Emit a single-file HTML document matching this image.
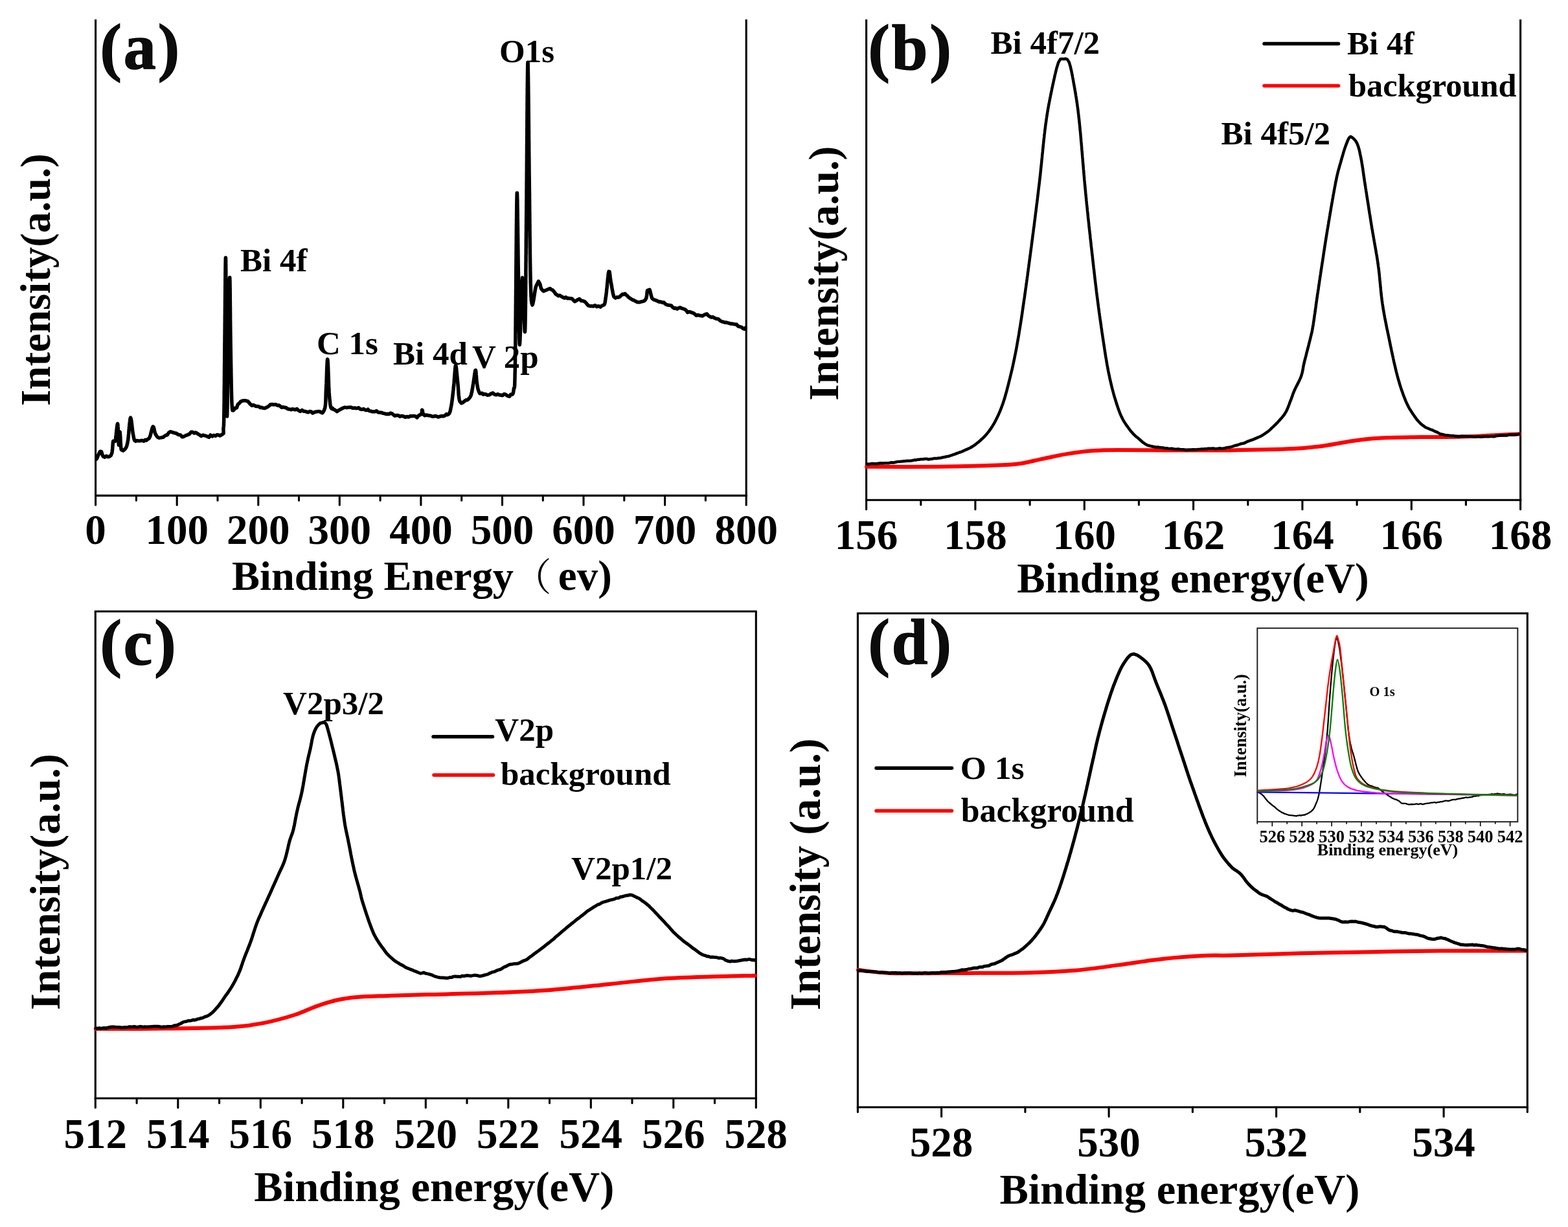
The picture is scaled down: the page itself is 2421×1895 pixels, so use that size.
<!DOCTYPE html>
<html><head><meta charset="utf-8"><title>XPS spectra</title>
<style>html,body{margin:0;padding:0;background:#fff;width:2421px;height:1895px;overflow:hidden}svg{display:block}</style>
</head><body>
<svg width="2421" height="1895" viewBox="0 0 2421 1895">
<rect width="2421" height="1895" fill="#fff"/>
<g font-family='"Liberation Serif", "Times New Roman", serif' font-weight="bold" fill="#000">
<line x1="147.6" y1="30" x2="147.6" y2="766.9" stroke="#000" stroke-width="3.1" stroke-linecap="butt"/>
<line x1="1152.2" y1="30" x2="1152.2" y2="766.9" stroke="#000" stroke-width="3.1" stroke-linecap="butt"/>
<line x1="146" y1="765.4" x2="1153.8" y2="765.4" stroke="#000" stroke-width="3.1" stroke-linecap="butt"/>
<line x1="147.6" y1="765.4" x2="147.6" y2="779.9" stroke="#000" stroke-width="3.1" stroke-linecap="round"/>
<line x1="210.4" y1="765.4" x2="210.4" y2="772.9" stroke="#000" stroke-width="3.1" stroke-linecap="round"/>
<line x1="273.2" y1="765.4" x2="273.2" y2="779.9" stroke="#000" stroke-width="3.1" stroke-linecap="round"/>
<line x1="336" y1="765.4" x2="336" y2="772.9" stroke="#000" stroke-width="3.1" stroke-linecap="round"/>
<line x1="398.8" y1="765.4" x2="398.8" y2="779.9" stroke="#000" stroke-width="3.1" stroke-linecap="round"/>
<line x1="461.5" y1="765.4" x2="461.5" y2="772.9" stroke="#000" stroke-width="3.1" stroke-linecap="round"/>
<line x1="524.3" y1="765.4" x2="524.3" y2="779.9" stroke="#000" stroke-width="3.1" stroke-linecap="round"/>
<line x1="587.1" y1="765.4" x2="587.1" y2="772.9" stroke="#000" stroke-width="3.1" stroke-linecap="round"/>
<line x1="649.9" y1="765.4" x2="649.9" y2="779.9" stroke="#000" stroke-width="3.1" stroke-linecap="round"/>
<line x1="712.7" y1="765.4" x2="712.7" y2="772.9" stroke="#000" stroke-width="3.1" stroke-linecap="round"/>
<line x1="775.5" y1="765.4" x2="775.5" y2="779.9" stroke="#000" stroke-width="3.1" stroke-linecap="round"/>
<line x1="838.3" y1="765.4" x2="838.3" y2="772.9" stroke="#000" stroke-width="3.1" stroke-linecap="round"/>
<line x1="901" y1="765.4" x2="901" y2="779.9" stroke="#000" stroke-width="3.1" stroke-linecap="round"/>
<line x1="963.8" y1="765.4" x2="963.8" y2="772.9" stroke="#000" stroke-width="3.1" stroke-linecap="round"/>
<line x1="1026.6" y1="765.4" x2="1026.6" y2="779.9" stroke="#000" stroke-width="3.1" stroke-linecap="round"/>
<line x1="1089.4" y1="765.4" x2="1089.4" y2="772.9" stroke="#000" stroke-width="3.1" stroke-linecap="round"/>
<line x1="1152.2" y1="765.4" x2="1152.2" y2="779.9" stroke="#000" stroke-width="3.1" stroke-linecap="round"/>
<text x="147.6" y="840" font-size="65" text-anchor="middle" >0</text>
<text x="273.2" y="840" font-size="65" text-anchor="middle" >100</text>
<text x="398.8" y="840" font-size="65" text-anchor="middle" >200</text>
<text x="524.3" y="840" font-size="65" text-anchor="middle" >300</text>
<text x="649.9" y="840" font-size="65" text-anchor="middle" >400</text>
<text x="775.5" y="840" font-size="65" text-anchor="middle" >500</text>
<text x="901" y="840" font-size="65" text-anchor="middle" >600</text>
<text x="1026.6" y="840" font-size="65" text-anchor="middle" >700</text>
<text x="1152.2" y="840" font-size="65" text-anchor="middle" >800</text>
<path d="M149.2 708.9 L149.9 707.3 L150.9 705 L152 702.2 L153.3 699.6 L154.4 697.5 L155.4 697.3 L156.5 697.4 L157.3 699.9 L158.2 702.9 L159.5 705.1 L161.6 706.1 L164.1 704.3 L166.6 705.5 L168.7 705.2 L171.2 703.5 L172.8 699.7 L173.1 697.9 L173.4 695.6 L173.7 692.9 L173.9 690.1 L174.1 687.4 L174.3 684.8 L174.5 682.7 L174.8 681.3 L177.9 681.5 L178.2 679.7 L178.5 677.6 L178.8 675 L179.2 672.1 L179.5 669 L179.8 665.8 L180.2 662.8 L180.5 660.1 L180.8 657.7 L181.1 655.9 L181.4 654.8 L181.6 654.3 L181.8 655.2 L182 656.6 L182.1 658.7 L182.3 661.2 L182.4 664.1 L182.5 667.3 L182.6 670.6 L182.7 674 L182.8 677.2 L182.9 680.2 L183.1 682.8 L183.2 685 L183.3 686.6 L183.4 687.4 L183.6 687.2 L183.8 685.5 L183.9 682.7 L184.1 679.2 L184.3 675.6 L184.5 672.1 L184.7 669.2 L184.9 667.3 L185.1 667 L185.3 667.6 L185.4 668.9 L185.5 670.8 L185.7 673.1 L185.8 675.8 L186 678.6 L186.1 681.6 L186.3 684.6 L186.5 687.4 L186.7 690.1 L186.9 692.4 L187.2 694.3 L187.5 694.7 L190.3 696.1 L193.3 693.3 L194.2 692 L195.1 690.4 L195.8 688.3 L196.6 685.3 L197.4 681.2 L197.7 679.5 L197.9 677.4 L198.2 675.1 L198.4 672.5 L198.7 669.7 L198.9 666.8 L199.2 663.9 L199.4 660.9 L199.7 658.1 L200 655.4 L200.2 652.8 L200.5 650.6 L200.7 648.6 L201 647.1 L201.2 646 L201.5 645 L201.9 645.6 L202.2 646.5 L202.6 648.4 L203 650.8 L203.4 653.8 L203.7 656.9 L204.1 660.2 L204.5 663.5 L204.9 666.5 L205.2 669 L205.6 671 L206.3 674.9 L206.9 677.8 L207.8 680.2 L209.7 681.5 L211.5 680.4 L213.8 680.9 L216.4 680.8 L219.2 680.3 L221.8 681.3 L224.1 679.3 L226 680.1 L228.6 677.9 L229.9 677.3 L231.2 675.1 L231.9 673.2 L232.7 670.5 L233.4 667.4 L234.2 664.4 L234.9 661.7 L235.6 659.7 L236.3 658.9 L237.1 659.5 L237.8 661.9 L238.5 665.2 L239.3 668.6 L240.4 671.1 L242 673.6 L243.7 675.5 L245.9 676.3 L248.6 675.9 L250.2 675.5 L252.1 675.2 L254.1 673.5 L256.2 672.2 L258.3 671.7 L260.6 668.3 L262.8 666.8 L265 667.2 L267.2 668 L269.5 668.7 L271.8 669 L274.2 670.6 L276.6 671.6 L278.9 671.9 L281.2 674.8 L283.4 674.5 L285.8 673 L288.1 672.2 L290.4 671.2 L292.6 670.4 L294.9 667.3 L297.3 667.3 L299.8 669 L301.9 668 L304 669 L306.3 670.7 L308.5 671.9 L310.8 673.5 L313.2 672 L315.5 672.6 L317.9 673.1 L320.3 674.3 L322.6 675.3 L325 671.9 L327.6 673.9 L330.2 672.2 L332.8 673.3 L335.2 671.5 L337.6 672 L339.7 672.9 L341.5 671.8 L342.9 671.2 L345.1 669.4 L345.1 667.1 L344.9 662.8 L345 661.5 L345.1 660.4 L345.2 659.4 L345.3 658.5 L345.4 657.3 L345.5 656 L345.5 654.3 L345.6 652.1 L345.7 649.3 L345.7 645.7 L345.8 641.4 L345.9 636.1 L345.9 634.7 L345.9 633.2 L346 631.7 L346 630.2 L346 628.5 L346 626.9 L346 625.1 L346.1 623.3 L346.1 621.5 L346.1 619.6 L346.1 617.7 L346.1 615.8 L346.2 613.8 L346.2 611.7 L346.2 609.6 L346.2 607.5 L346.2 605.4 L346.3 603.2 L346.3 601 L346.3 598.7 L346.3 596.5 L346.4 594.2 L346.4 591.8 L346.4 589.5 L346.4 587.1 L346.4 584.7 L346.5 582.3 L346.5 579.9 L346.5 577.5 L346.5 575 L346.5 572.5 L346.6 570.1 L346.6 567.6 L346.6 565.1 L346.6 562.6 L346.7 560.1 L346.7 557.6 L346.7 555.1 L346.7 552.6 L346.7 550.1 L346.8 547.6 L346.8 545.2 L346.8 542.7 L346.8 540.2 L346.9 537.8 L346.9 535.3 L346.9 532.9 L346.9 530.5 L347 528.1 L347 525.7 L347 523.4 L347 521.3 L347 519.1 L347.1 516.8 L347.1 514.4 L347.1 512 L347.1 509.5 L347.2 507 L347.2 504.4 L347.2 501.7 L347.2 499 L347.3 496.3 L347.3 493.5 L347.3 490.7 L347.3 487.9 L347.4 485 L347.4 482.1 L347.4 479.2 L347.4 476.3 L347.5 473.4 L347.5 470.5 L347.5 467.5 L347.5 464.6 L347.6 461.7 L347.6 458.8 L347.6 455.9 L347.6 453.1 L347.7 450.2 L347.7 447.4 L347.7 444.7 L347.7 441.9 L347.8 439.2 L347.8 436.6 L347.8 434 L347.8 431.5 L347.9 429 L347.9 426.6 L347.9 424.2 L347.9 421.9 L348 419.7 L348 417.6 L348 415.6 L348 413.7 L348.1 411.8 L348.1 410 L348.1 408.4 L348.1 406.8 L348.2 405.4 L348.2 404.1 L348.2 402.9 L348.2 401.8 L348.3 400.8 L348.3 400 L348.3 399.3 L348.3 398.8 L348.4 398.4 L348.4 398.1 L348.4 398.1 L348.4 398 L348.4 398.3 L348.5 398.6 L348.5 399.1 L348.5 399.8 L348.5 400.6 L348.6 401.5 L348.6 402.6 L348.6 403.8 L348.6 405.1 L348.6 406.6 L348.7 408.1 L348.7 409.8 L348.7 411.6 L348.7 413.4 L348.7 415.4 L348.8 417.5 L348.8 419.6 L348.8 421.8 L348.8 424.1 L348.8 426.5 L348.9 429 L348.9 431.5 L348.9 434.1 L348.9 436.7 L348.9 439.4 L349 442.2 L349 444.9 L349 447.8 L349 450.6 L349 453.5 L349.1 456.4 L349.1 459.3 L349.1 462.3 L349.1 465.2 L349.1 468.2 L349.2 471.2 L349.2 474.1 L349.2 477.1 L349.2 480 L349.2 483 L349.2 485.9 L349.3 488.8 L349.3 491.6 L349.3 494.5 L349.3 497.3 L349.3 500 L349.4 502.7 L349.4 505.4 L349.4 508 L349.4 510.5 L349.4 513 L349.5 515.4 L349.5 517.7 L349.5 520 L349.5 522.3 L349.5 524.6 L349.6 527 L349.6 529.5 L349.6 532 L349.6 534.6 L349.6 537.3 L349.7 540 L349.7 542.7 L349.7 545.5 L349.7 548.3 L349.7 551.2 L349.7 554 L349.8 556.9 L349.8 559.9 L349.8 562.8 L349.8 565.8 L349.8 568.7 L349.8 571.7 L349.9 574.6 L349.9 577.6 L349.9 580.5 L349.9 583.4 L349.9 586.3 L349.9 589.2 L350 592 L350 594.9 L350 597.6 L350 600.4 L350 603 L350.1 605.7 L350.1 608.3 L350.1 610.8 L350.1 613.2 L350.1 615.6 L350.2 617.9 L350.2 620.1 L350.2 622.3 L350.2 624.4 L350.2 626.3 L350.3 628.2 L350.3 630 L350.3 631.7 L350.3 633.2 L350.3 634.7 L350.4 636 L350.4 637.2 L350.4 638.3 L350.4 639.3 L350.5 640.1 L350.5 640.8 L350.5 641.3 L350.5 641.7 L350.6 641.9 L350.6 643.1 L350.6 641.9 L350.7 641.7 L350.7 641.3 L350.7 640.7 L350.7 640 L350.8 639.1 L350.8 638.1 L350.8 636.9 L350.9 635.7 L350.9 634.3 L350.9 632.7 L351 631.1 L351 629.3 L351 627.5 L351.1 625.5 L351.1 623.4 L351.1 621.3 L351.2 619 L351.2 616.7 L351.3 614.3 L351.3 611.8 L351.3 609.3 L351.4 606.7 L351.4 604 L351.4 601.3 L351.5 598.5 L351.5 595.7 L351.6 592.9 L351.6 590 L351.6 587.1 L351.7 584.2 L351.7 581.3 L351.7 578.3 L351.8 575.3 L351.8 572.4 L351.9 569.4 L351.9 566.4 L351.9 563.5 L352 560.6 L352 557.7 L352.1 554.8 L352.1 551.9 L352.1 549.1 L352.2 546.3 L352.2 543.6 L352.3 540.9 L352.3 538.3 L352.3 535.8 L352.4 533.3 L352.4 530.9 L352.4 528.5 L352.5 526.2 L352.5 524.1 L352.6 522 L352.6 520 L352.7 517.4 L352.7 514.7 L352.8 511.9 L352.8 509.1 L352.9 506.2 L352.9 503.3 L353 500.4 L353 497.4 L353.1 494.4 L353.1 491.4 L353.2 488.4 L353.2 485.4 L353.3 482.4 L353.3 479.4 L353.4 476.5 L353.4 473.5 L353.5 470.6 L353.6 467.8 L353.6 465 L353.7 462.2 L353.7 459.5 L353.8 456.9 L353.8 454.3 L353.9 451.9 L353.9 449.5 L354 447.2 L354 445 L354.1 442.9 L354.1 441 L354.2 439.1 L354.2 437.4 L354.3 435.8 L354.3 434.4 L354.4 433.1 L354.4 432 L354.5 431 L354.5 430.2 L354.6 429.6 L354.6 429.1 L354.7 428.9 L354.7 428.5 L354.7 428.9 L354.8 429.3 L354.8 429.8 L354.8 430.5 L354.9 431.3 L354.9 432.4 L355 433.6 L355 434.9 L355 436.4 L355 438 L355.1 439.7 L355.1 441.6 L355.1 443.6 L355.2 445.7 L355.2 447.9 L355.2 450.2 L355.2 452.6 L355.3 455.1 L355.3 457.6 L355.3 460.2 L355.3 462.9 L355.4 465.6 L355.4 468.4 L355.4 471.2 L355.5 474.1 L355.5 476.9 L355.5 479.8 L355.5 482.7 L355.6 485.7 L355.6 488.6 L355.6 491.5 L355.6 494.4 L355.7 497.3 L355.7 500.1 L355.7 502.9 L355.8 505.7 L355.8 508.4 L355.8 511.1 L355.9 513.7 L355.9 516.3 L355.9 518.7 L356 521.1 L356 523.4 L356 525.6 L356.1 527.9 L356.1 530.2 L356.1 532.5 L356.2 534.9 L356.2 537.3 L356.3 539.8 L356.3 542.3 L356.3 544.8 L356.4 547.3 L356.4 549.8 L356.5 552.3 L356.5 554.9 L356.5 557.5 L356.6 560 L356.6 562.6 L356.7 565.2 L356.7 567.7 L356.8 570.3 L356.8 572.8 L356.8 575.4 L356.9 577.9 L356.9 580.3 L357 582.8 L357 585.2 L357.1 587.7 L357.1 590 L357.1 592.4 L357.2 594.6 L357.2 596.9 L357.3 599.1 L357.3 601.2 L357.4 603.3 L357.4 605.4 L357.5 607.4 L357.5 609.3 L357.6 611.1 L357.6 612.9 L357.7 614.6 L357.7 616.3 L357.8 617.8 L357.8 619.3 L357.9 620.7 L357.9 622 L358.4 630.2 L358.8 633.8 L359.3 633.3 L359.8 633.4 L360.3 633.9 L361.4 632.8 L362.5 630.2 L365.4 629.9 L366.4 626.9 L367.6 624.1 L369.5 622.7 L371.3 620.5 L373.7 619.2 L376.2 618.8 L378.6 618.7 L380.8 619.1 L382.9 619.8 L384.5 621.9 L386.4 624.1 L389 626.4 L390.7 625.5 L392.7 626.1 L394.9 627.4 L397.2 627.5 L399.5 627.7 L401.9 629.5 L404.2 629.2 L406.4 630.2 L408.7 630.4 L410.9 629.4 L413.1 628.4 L415.3 627 L417.5 624.8 L420 624.5 L422.8 625 L424.7 624.6 L426.6 625 L428.5 626.3 L430.5 625.8 L432.6 627.2 L434.8 629.3 L437.1 628.7 L439.4 629.3 L441.9 629.8 L444.6 631.8 L447.4 632 L449.4 632.7 L451.5 631.8 L453.7 632.2 L456.1 632.7 L458.5 631.5 L461.1 634.1 L463.6 635.2 L466.2 633.4 L468.8 635.1 L471.3 635.3 L473.8 636.2 L476.2 636.7 L478.5 635.3 L480.7 635.9 L482.8 638 L484.6 637.1 L486.3 636.2 L490.3 635.6 L493.3 635.5 L495.8 636.9 L497.7 637.7 L499.3 635.7 L500.7 633.1 L501.2 631.8 L501.7 630.2 L502 628.5 L502.3 626.7 L502.5 624.6 L502.7 622.5 L502.8 620.3 L502.9 617.9 L503 615.5 L503 613 L503.1 610.4 L503.2 607.8 L503.2 605.2 L503.4 602.6 L503.5 600 L503.6 597.9 L503.7 595.5 L503.9 592.9 L504 590.1 L504.1 587.2 L504.2 584.1 L504.3 581 L504.4 577.9 L504.5 574.8 L504.6 571.8 L504.7 568.8 L504.8 566.1 L505 563.6 L505.1 561.3 L505.2 559.3 L505.3 557.6 L505.4 556.3 L505.5 555.5 L505.7 554.8 L505.8 555.2 L505.9 555.7 L506 556.4 L506.1 557.5 L506.2 558.9 L506.3 560.5 L506.4 562.4 L506.5 564.5 L506.6 566.7 L506.7 569.2 L506.8 571.7 L506.9 574.4 L507 577.2 L507.1 580.1 L507.2 583 L507.3 586 L507.4 589 L507.5 591.9 L507.6 594.8 L507.7 597.7 L507.9 600.5 L508 603.1 L508.1 605.7 L508.3 608.1 L508.4 610.3 L508.6 612.3 L508.7 614.1 L508.9 615.7 L509.4 620.1 L509.8 623.6 L510.2 626.3 L510.6 628.5 L511.2 630 L512.1 631.2 L513.3 630.4 L515 632.3 L516.5 632.7 L518.3 634 L520.4 635.6 L522.6 633.9 L524.9 632.6 L527.4 631.3 L529.9 630 L532.4 629.1 L534.9 629.6 L537.3 629.2 L539.6 629.1 L541.8 628.9 L543.8 630 L545.8 630.2 L547.7 629.9 L549.7 630.6 L551.7 630.5 L553.9 629.7 L556.2 631.9 L558.6 632.4 L561.4 631.6 L564.4 633.4 L566.2 633.6 L568.1 632.2 L570.2 634.6 L572.3 634.9 L574.5 635.7 L576.7 635.8 L579.1 635.7 L581.4 634.6 L583.8 636.7 L586.3 637.1 L588.7 637.2 L591.2 638.1 L593.6 638.6 L596.1 639.5 L598.5 639.3 L600.8 639.6 L603.1 638 L605.4 638.9 L607.6 640.6 L609.7 642.2 L612.3 641.5 L615 641.4 L617.6 643.2 L620.3 642.3 L623 643 L625.7 644.3 L628.3 643.4 L630.8 644.1 L633.3 642.6 L635.7 642.7 L637.9 642.4 L640.1 642.4 L642 643.4 L643.9 645 L645.5 642.6 L646.9 641.5 L650.4 639.7 L651.5 636.6 L651.4 633.9 L651.7 633 L652.4 634.3 L652.8 638 L654.4 640.7 L655.9 641.8 L657.6 641 L659.7 641.3 L662 641.7 L664.6 642 L667.5 643.3 L669.5 643.2 L671.8 642.5 L674.3 643 L677 644.1 L679.7 642.9 L682.3 642.5 L684.9 642.8 L687.2 641.7 L689.2 639.6 L690.9 640.8 L693.2 639.3 L694.5 636.6 L695.2 634.7 L695.7 632.1 L696.4 628.5 L696.7 626.9 L697.1 625.1 L697.4 623.1 L697.7 621 L698 618.8 L698.3 616.4 L698.6 614 L698.9 611.6 L699.2 609.1 L699.4 606.6 L699.7 604.1 L700 601.6 L700.2 599.2 L700.5 596.9 L700.7 594.5 L701 591.8 L701.2 589 L701.4 586 L701.6 583.1 L701.9 580.1 L702.1 577.2 L702.3 574.4 L702.5 571.9 L702.7 569.6 L702.9 567.7 L703.1 566.2 L703.3 565.1 L703.5 564.7 L703.8 564.7 L704.1 565.6 L704.4 567.2 L704.6 569.4 L704.9 572 L705.2 574.9 L705.5 578 L705.8 581.2 L706.1 584.3 L706.4 587.3 L706.7 590 L706.9 592.3 L707.1 594.7 L707.3 597.3 L707.5 600 L707.7 602.8 L707.9 605.5 L708.1 608.2 L708.3 610.8 L708.6 613.2 L708.9 615.4 L709.2 617.3 L709.6 618.9 L710.1 620.1 L712.1 622.6 L714.7 621.6 L717.3 619.5 L719.7 617.7 L721.7 617.7 L723.5 616 L725.1 614.4 L726.6 612 L727.3 610.3 L727.8 608.2 L728.4 605.9 L728.9 603.3 L729.3 600.7 L729.8 598 L730.2 595.3 L730.7 592.7 L731.1 590.2 L731.5 587.3 L732 584.3 L732.4 581.2 L732.8 578.2 L733.2 575.6 L733.5 573.5 L733.9 572 L734.2 571.8 L734.5 571.8 L734.8 573.4 L735 575.7 L735.2 578.5 L735.5 581.6 L735.7 584.8 L735.9 587.6 L736.2 590 L736.6 592.7 L737 595.3 L737.4 597.7 L737.8 600 L738.4 602 L739 603.7 L739.9 606.1 L741 607.8 L744.5 607.2 L746.1 609.2 L748.1 608.6 L750.4 609 L752.8 610.3 L755.4 609.9 L758.1 608.1 L760.8 606.9 L763.5 609.2 L766.1 609.9 L768.5 608.7 L770.6 609.8 L773.3 610.2 L776 610.8 L778.5 608.5 L780.9 609.4 L783.1 611.2 L785.1 611.9 L786.9 612.2 L788.5 609.2 L790.7 609.3 L791.9 608.3 L792.6 605.7 L793.3 601 L793.5 599.8 L793.7 599.2 L793.8 598.8 L794 598.6 L794.1 599.3 L794.2 598.5 L794.3 598.3 L794.4 597.8 L794.5 597 L794.6 595.6 L794.7 593.7 L794.8 591 L794.9 587.5 L795 583 L795.1 577.4 L795.3 570.6 L795.4 562.5 L795.4 561.2 L795.4 559.8 L795.5 558.4 L795.5 557 L795.5 555.4 L795.5 553.9 L795.5 552.2 L795.6 550.6 L795.6 548.8 L795.6 547.1 L795.6 545.2 L795.7 543.4 L795.7 541.4 L795.7 539.5 L795.7 537.5 L795.7 535.4 L795.8 533.3 L795.8 531.2 L795.8 529 L795.8 526.8 L795.9 524.6 L795.9 522.3 L795.9 520 L795.9 517.6 L795.9 515.2 L796 512.8 L796 510.4 L796 507.9 L796 505.4 L796.1 502.9 L796.1 500.3 L796.1 497.7 L796.1 495.1 L796.1 492.5 L796.2 489.8 L796.2 487.2 L796.2 484.5 L796.2 481.8 L796.3 479.1 L796.3 476.3 L796.3 473.6 L796.3 470.8 L796.4 468 L796.4 465.2 L796.4 462.4 L796.4 459.6 L796.5 456.7 L796.5 453.9 L796.5 451.1 L796.5 448.2 L796.6 445.4 L796.6 442.5 L796.6 439.7 L796.6 436.8 L796.6 434 L796.7 431.1 L796.7 428.2 L796.7 425.4 L796.7 422.5 L796.8 419.7 L796.8 416.9 L796.8 414.1 L796.8 411.2 L796.9 408.4 L796.9 405.6 L796.9 402.8 L796.9 400.1 L797 397.3 L797 394.6 L797 391.9 L797 389.1 L797.1 386.5 L797.1 383.8 L797.1 381.1 L797.1 378.5 L797.2 375.9 L797.2 373.3 L797.2 370.8 L797.2 368.3 L797.2 365.8 L797.3 363.3 L797.3 360.8 L797.3 358.4 L797.3 356 L797.4 353.7 L797.4 351.4 L797.4 349.1 L797.4 346.9 L797.5 344.7 L797.5 342.5 L797.5 340.4 L797.5 338.3 L797.6 336.2 L797.6 334.2 L797.6 332.3 L797.6 330.4 L797.6 328.5 L797.7 326.7 L797.7 324.9 L797.7 323.2 L797.7 321.5 L797.8 319.9 L797.8 318.3 L797.8 316.8 L797.8 315.3 L797.8 313.9 L797.9 312.6 L797.9 311.3 L797.9 310.1 L797.9 308.9 L798 307.8 L798 306.7 L798 305.7 L798 304.8 L798 304 L798.1 303.2 L798.1 302.5 L798.1 301.8 L798.1 300.5 L798.2 299.5 L798.2 298.8 L798.3 298.3 L798.3 298.1 L798.4 298.1 L798.4 298.4 L798.5 298.8 L798.5 299.5 L798.6 300.4 L798.6 301.4 L798.6 302.7 L798.7 304.2 L798.7 305.8 L798.8 307.6 L798.8 309.5 L798.9 311.6 L798.9 313.8 L798.9 316.2 L799 318.7 L799 321.3 L799.1 324 L799.1 326.9 L799.2 329.8 L799.2 332.8 L799.2 335.9 L799.3 339 L799.3 342.2 L799.4 345.5 L799.4 348.8 L799.5 352.1 L799.5 355.5 L799.5 358.9 L799.6 362.3 L799.6 365.8 L799.7 369.2 L799.7 372.6 L799.7 376 L799.8 379.3 L799.8 382.6 L799.9 385.9 L799.9 389.2 L799.9 392.3 L800 395.4 L800 398.5 L800.1 401.4 L800.1 404.3 L800.1 407 L800.2 409.7 L800.2 412.2 L800.3 414.6 L800.3 416.9 L800.3 419.2 L800.4 421.5 L800.4 423.9 L800.5 426.3 L800.5 428.9 L800.5 431.4 L800.6 434.1 L800.6 436.7 L800.6 439.4 L800.7 442.2 L800.7 445 L800.7 447.8 L800.8 450.6 L800.8 453.5 L800.8 456.4 L800.9 459.3 L800.9 462.2 L800.9 465 L801 467.9 L801 470.8 L801 473.7 L801.1 476.5 L801.1 479.4 L801.1 482.2 L801.2 485 L801.2 487.7 L801.2 490.4 L801.3 493.1 L801.3 495.7 L801.4 498.2 L801.4 500.7 L801.4 503.2 L801.5 505.5 L801.5 507.8 L801.5 510.1 L801.6 512.2 L801.6 514.3 L801.7 516.3 L801.7 518.1 L801.7 519.9 L801.8 521.6 L801.8 523.2 L801.9 524.6 L801.9 526 L802 527.2 L802 528.3 L802 529.3 L802.1 530.1 L802.1 530.8 L802.2 531.3 L802.2 531.7 L802.3 532 L802.4 532.5 L802.4 531.9 L802.5 531.4 L802.6 530.8 L802.6 529.8 L802.7 528.7 L802.8 527.4 L802.9 525.8 L803 524.1 L803 522.2 L803.1 520.2 L803.2 518 L803.3 515.6 L803.4 513.2 L803.5 510.6 L803.6 507.9 L803.6 505.1 L803.7 502.2 L803.8 499.3 L803.9 496.3 L804 493.2 L804.1 490.1 L804.2 487 L804.3 483.9 L804.4 480.7 L804.5 477.6 L804.6 474.5 L804.6 471.4 L804.7 468.3 L804.8 465.4 L804.9 462.4 L805 459.6 L805.1 456.8 L805.2 454.1 L805.2 451.5 L805.3 449.1 L805.4 446.8 L805.5 444.6 L805.6 442.6 L805.6 440.7 L805.7 439 L805.8 437.5 L805.8 436.2 L805.9 435.1 L806.5 428.8 L806.9 430 L807.4 436.2 L807.9 445 L808 446.5 L808.1 448.4 L808.2 450.6 L808.3 453.1 L808.3 455.9 L808.4 458.9 L808.5 462.1 L808.6 465.5 L808.7 469 L808.8 472.6 L808.9 476.3 L809 479.9 L809.1 483.6 L809.2 487.2 L809.4 490.7 L809.5 494 L809.6 497.2 L809.7 500.2 L809.8 503 L809.9 505.5 L810 507.7 L810.1 509.5 L810.2 510.9 L810.3 512 L810.3 512.5 L810.4 512.6 L810.5 512.1 L810.6 511.1 L810.7 509.5 L810.7 508.8 L810.8 508 L810.8 507.1 L810.8 506.2 L810.8 505.2 L810.9 504.1 L810.9 503 L810.9 501.9 L811 500.6 L811 499.4 L811 498 L811 496.6 L811.1 495.2 L811.1 493.7 L811.1 492.1 L811.1 490.5 L811.2 488.9 L811.2 487.2 L811.2 485.4 L811.3 483.7 L811.3 481.8 L811.3 479.9 L811.3 478 L811.4 476.1 L811.4 474.1 L811.4 472 L811.4 469.9 L811.5 467.8 L811.5 465.7 L811.5 463.5 L811.5 461.2 L811.5 459 L811.6 456.7 L811.6 454.4 L811.6 452 L811.6 449.7 L811.7 447.2 L811.7 444.8 L811.7 442.4 L811.7 439.9 L811.8 437.4 L811.8 434.8 L811.8 432.3 L811.8 429.7 L811.9 427.1 L811.9 424.5 L811.9 421.9 L811.9 419.3 L811.9 416.6 L812 413.9 L812 411.3 L812 408.6 L812 405.9 L812.1 403.1 L812.1 400.4 L812.1 397.7 L812.1 394.9 L812.2 392.2 L812.2 389.5 L812.2 386.7 L812.2 384 L812.3 381.2 L812.3 378.5 L812.3 375.7 L812.3 373 L812.3 370.2 L812.4 367.5 L812.4 364.7 L812.4 362 L812.4 359.3 L812.5 356.6 L812.5 353.9 L812.5 351.2 L812.5 348.5 L812.6 345.8 L812.6 343.2 L812.6 340.5 L812.6 337.9 L812.7 335.3 L812.7 332.7 L812.7 330.7 L812.7 328.8 L812.8 326.7 L812.8 324.6 L812.8 322.5 L812.8 320.3 L812.8 318.1 L812.9 315.9 L812.9 313.6 L812.9 311.3 L812.9 308.9 L812.9 306.5 L813 304.1 L813 301.7 L813 299.2 L813 296.7 L813 294.1 L813.1 291.6 L813.1 289 L813.1 286.4 L813.1 283.7 L813.1 281.1 L813.2 278.4 L813.2 275.7 L813.2 272.9 L813.2 270.2 L813.2 267.4 L813.3 264.7 L813.3 261.9 L813.3 259.1 L813.3 256.3 L813.3 253.5 L813.4 250.6 L813.4 247.8 L813.4 245 L813.4 242.1 L813.4 239.2 L813.5 236.4 L813.5 233.5 L813.5 230.7 L813.5 227.8 L813.5 224.9 L813.6 222.1 L813.6 219.2 L813.6 216.4 L813.6 213.5 L813.6 210.7 L813.7 207.8 L813.7 205 L813.7 202.2 L813.7 199.4 L813.8 196.6 L813.8 193.9 L813.8 191.1 L813.8 188.3 L813.8 185.6 L813.9 182.9 L813.9 180.2 L813.9 177.6 L813.9 174.9 L813.9 172.3 L814 169.7 L814 167.1 L814 164.6 L814 162.1 L814 159.6 L814.1 157.1 L814.1 154.7 L814.1 152.3 L814.1 149.9 L814.1 147.6 L814.2 145.3 L814.2 143.1 L814.2 140.8 L814.2 138.7 L814.2 136.5 L814.3 134.4 L814.3 132.4 L814.3 130.4 L814.3 128.4 L814.4 126.5 L814.4 124.6 L814.4 122.8 L814.4 121.1 L814.4 119.3 L814.5 117.7 L814.5 116.1 L814.5 114.5 L814.5 113 L814.5 111.5 L814.6 110.2 L814.6 108.8 L814.6 107.6 L814.6 106.4 L814.6 105.2 L814.7 104.1 L814.7 103.1 L814.7 102.2 L814.7 101.3 L814.8 100.5 L814.8 99.7 L814.8 99.1 L814.8 98.5 L814.8 97.9 L814.9 97.5 L814.9 97.1 L814.9 96.8 L814.9 96.5 L815 96.4 L815 96.2 L815 96.4 L815 96.6 L815.1 97 L815.1 97.4 L815.1 98 L815.2 98.7 L815.2 99.4 L815.2 100.3 L815.2 101.3 L815.3 102.4 L815.3 103.6 L815.3 104.9 L815.4 106.3 L815.4 107.7 L815.4 109.3 L815.4 110.9 L815.5 112.7 L815.5 114.5 L815.5 116.3 L815.6 118.3 L815.6 120.3 L815.6 122.4 L815.6 124.6 L815.7 126.9 L815.7 129.2 L815.7 131.5 L815.8 133.9 L815.8 136.4 L815.8 138.9 L815.8 141.5 L815.9 144.2 L815.9 146.8 L815.9 149.6 L816 152.3 L816 155.1 L816 157.9 L816.1 160.8 L816.1 163.7 L816.1 166.6 L816.1 169.6 L816.2 172.6 L816.2 175.6 L816.2 178.6 L816.3 181.6 L816.3 184.7 L816.3 187.7 L816.3 190.8 L816.4 193.9 L816.4 196.9 L816.4 200 L816.5 203.1 L816.5 206.2 L816.5 209.2 L816.5 212.3 L816.6 215.3 L816.6 218.3 L816.6 221.4 L816.7 224.4 L816.7 227.3 L816.7 230.3 L816.7 233.2 L816.8 236.1 L816.8 239 L816.8 241.8 L816.9 244.6 L816.9 247.4 L816.9 250.1 L816.9 252.7 L817 255.4 L817 257.9 L817 260.5 L817 262.9 L817.1 265.4 L817.1 267.7 L817.1 270 L817.1 272.2 L817.2 274.4 L817.2 276.5 L817.2 278.9 L817.3 281.3 L817.3 283.7 L817.3 286.1 L817.3 288.6 L817.4 291 L817.4 293.5 L817.4 295.9 L817.5 298.4 L817.5 300.9 L817.5 303.4 L817.5 305.9 L817.6 308.3 L817.6 310.8 L817.6 313.3 L817.6 315.8 L817.7 318.3 L817.7 320.8 L817.7 323.3 L817.7 325.8 L817.8 328.3 L817.8 330.8 L817.8 333.3 L817.8 335.8 L817.9 338.2 L817.9 340.7 L817.9 343.2 L817.9 345.6 L818 348 L818 350.5 L818 352.9 L818 355.3 L818.1 357.7 L818.1 360.1 L818.1 362.5 L818.1 364.8 L818.2 367.2 L818.2 369.5 L818.2 371.8 L818.2 374.1 L818.3 376.4 L818.3 378.6 L818.3 380.9 L818.3 383.1 L818.4 385.3 L818.4 387.5 L818.4 389.6 L818.4 391.7 L818.5 393.8 L818.5 395.9 L818.5 398 L818.6 400 L818.6 402 L818.6 403.9 L818.6 405.9 L818.7 407.8 L818.7 409.7 L818.7 411.5 L818.8 413.3 L818.8 415.1 L818.8 416.8 L818.8 418.6 L818.9 420.2 L818.9 421.9 L818.9 423.5 L819 425 L819 426.6 L819 428.1 L819.1 429.5 L819.1 430.9 L819.2 436.3 L819.4 441.2 L819.5 445.6 L819.6 449.5 L819.8 452.9 L819.9 456 L820 458.6 L820.2 460.9 L820.3 462.9 L820.5 464.6 L820.7 465.9 L820.8 467.1 L821 468 L821.2 468.8 L821.4 469.4 L821.7 470 L821.9 471.1 L822.3 470.3 L822.7 469.2 L823.1 467.4 L823.6 465 L824.1 462.1 L824.6 458.9 L825.1 455.6 L825.6 452.3 L826.1 449.1 L826.6 446.3 L827.1 443.9 L827.6 442.2 L829.5 438.2 L831.4 434.4 L833.2 437.6 L834.1 439.7 L834.8 442.7 L835.7 445.9 L837.4 448 L839.2 449.7 L841.5 448.7 L844.1 447.7 L846.8 446.5 L849.3 445.5 L851.4 447.3 L853.4 448.1 L855 449.9 L856.5 451.9 L858 454.1 L860 455.3 L862 457 L864.2 456.2 L866.5 457.6 L868.9 459 L871.4 460.2 L873.7 459 L876 460.7 L878.4 460.6 L880.9 461.1 L883.2 461.3 L885.4 463.7 L887.5 465.7 L890.2 464.1 L892.5 462.5 L894.7 461.7 L897.1 464.4 L898.9 464.5 L900.8 464.9 L902.7 465.8 L904.6 467.5 L906.4 469.7 L908.1 471.8 L910.8 472.7 L913.2 472.8 L916.4 472.9 L918.7 471.5 L921.3 473.7 L924.2 472.7 L927 474.2 L929.5 472 L931.5 471.3 L932.7 470.8 L933.5 469.4 L934 467.8 L934.4 465.8 L934.7 463.4 L935.1 460.5 L935.6 457 L935.9 455.3 L936.1 453.3 L936.4 451 L936.6 448.5 L936.9 445.9 L937.2 443.2 L937.5 440.4 L937.7 437.6 L938 434.8 L938.3 432.1 L938.5 429.5 L938.8 427.1 L939 424.9 L939.3 423 L939.5 421.3 L939.8 420.1 L940 419.3 L940.5 419.6 L941 419.6 L941.4 421.8 L941.8 424.9 L942.2 428.4 L942.7 431.9 L943.2 435 L943.6 437.1 L944 439.5 L944.5 442.2 L944.9 444.9 L945.4 447.6 L945.9 450.3 L946.4 452.8 L946.9 455 L947.4 456.9 L948 458.4 L950.1 460.2 L952.4 459.1 L954.9 459.3 L956.9 458.3 L959 456.2 L961.1 454.3 L963.1 454.7 L964.9 453.5 L966.6 455.2 L968.3 456.7 L970 458.6 L972 460.1 L974.1 461.5 L976.9 463.3 L978.9 463.7 L981.2 465.3 L983.8 466.4 L986.3 466.7 L988.6 466.4 L990.6 465.8 L992.9 465.4 L994.8 464.7 L996.3 463.1 L997.5 461.2 L998.2 458.9 L998.6 456.1 L998.9 453.2 L999.2 450.6 L999.6 448.5 L1003 447.3 L1003.6 448.9 L1004.2 451.3 L1004.8 454 L1005.5 456.8 L1006.2 459.2 L1007.1 461 L1009 462.6 L1011.3 463.3 L1014 464.4 L1015.9 465.2 L1018 466.3 L1020.2 466.1 L1022.6 467.3 L1025 467.1 L1027.1 469.4 L1029.4 470.7 L1031.7 471.3 L1034 471.4 L1036.4 471.9 L1038.7 474.6 L1041 476.2 L1043.3 475.8 L1045.6 477.1 L1047.9 475.7 L1050.2 475 L1052.5 476.2 L1054.8 476.8 L1057.1 477.7 L1059.4 479.1 L1061.6 482.6 L1063.9 481.5 L1066.2 482 L1068.5 482.9 L1070.8 483.7 L1073.1 485.3 L1075.4 487.3 L1077.7 486.4 L1080 487.3 L1082.3 487.4 L1084.6 488.1 L1086.9 486.5 L1089.1 485.5 L1091.4 484.8 L1093.7 487.5 L1096 489 L1098.3 490.1 L1100.6 489.5 L1102.9 491.1 L1105.2 492.1 L1107.5 492.4 L1109.8 493.2 L1112.1 495.4 L1114.4 496.6 L1116.6 497.1 L1118.9 498.1 L1121.2 497.9 L1123.5 498.6 L1125.7 499.1 L1128 500 L1130.2 500.1 L1132.6 500.4 L1135 500.9 L1137.3 501.1 L1139.8 504 L1142.5 504.6 L1145 505.3 L1147.4 507.5 L1149.4 508.2 L1150.8 506.4" fill="none" stroke="#000" stroke-width="5.5" stroke-linejoin="round" stroke-linecap="round" />
<text x="154.5" y="106" font-size="100" text-anchor="start" fill="#0c0c0c" stroke="#000" stroke-width="1.5" letter-spacing="3">(a)</text>
<text x="771" y="95.7" font-size="51" text-anchor="start" >O1s</text>
<text x="371" y="419.4" font-size="51" text-anchor="start" >Bi 4f</text>
<text x="489" y="547.3" font-size="51" text-anchor="start" >C 1s</text>
<text x="607" y="562.9" font-size="51" text-anchor="start" >Bi 4d</text>
<text x="729" y="567.5" font-size="51" text-anchor="start" >V 2p</text>
<text transform="translate(76.5 432) rotate(-90)" x="0" y="0" font-size="65" text-anchor="middle">Intensity(a.u.)</text>
<text x="358" y="911" font-size="64.45">Binding Energy</text>
<text x="822" y="911.5" font-size="59" text-anchor="middle" font-family="'Noto Serif CJK SC', serif" font-weight="normal">（</text>
<text x="944.8" y="911" font-size="65" text-anchor="end">ev)</text>
<line x1="1337.6" y1="30" x2="1337.6" y2="773.8" stroke="#000" stroke-width="3.1" stroke-linecap="butt"/>
<line x1="2347.6" y1="30" x2="2347.6" y2="773.8" stroke="#000" stroke-width="3.1" stroke-linecap="butt"/>
<line x1="1336" y1="772.3" x2="2349.2" y2="772.3" stroke="#000" stroke-width="3.1" stroke-linecap="butt"/>
<line x1="1337.6" y1="772.3" x2="1337.6" y2="786.8" stroke="#000" stroke-width="3.1" stroke-linecap="round"/>
<line x1="1421.8" y1="772.3" x2="1421.8" y2="779.8" stroke="#000" stroke-width="3.1" stroke-linecap="round"/>
<line x1="1505.9" y1="772.3" x2="1505.9" y2="786.8" stroke="#000" stroke-width="3.1" stroke-linecap="round"/>
<line x1="1590.1" y1="772.3" x2="1590.1" y2="779.8" stroke="#000" stroke-width="3.1" stroke-linecap="round"/>
<line x1="1674.3" y1="772.3" x2="1674.3" y2="786.8" stroke="#000" stroke-width="3.1" stroke-linecap="round"/>
<line x1="1758.4" y1="772.3" x2="1758.4" y2="779.8" stroke="#000" stroke-width="3.1" stroke-linecap="round"/>
<line x1="1842.6" y1="772.3" x2="1842.6" y2="786.8" stroke="#000" stroke-width="3.1" stroke-linecap="round"/>
<line x1="1926.8" y1="772.3" x2="1926.8" y2="779.8" stroke="#000" stroke-width="3.1" stroke-linecap="round"/>
<line x1="2010.9" y1="772.3" x2="2010.9" y2="786.8" stroke="#000" stroke-width="3.1" stroke-linecap="round"/>
<line x1="2095.1" y1="772.3" x2="2095.1" y2="779.8" stroke="#000" stroke-width="3.1" stroke-linecap="round"/>
<line x1="2179.3" y1="772.3" x2="2179.3" y2="786.8" stroke="#000" stroke-width="3.1" stroke-linecap="round"/>
<line x1="2263.4" y1="772.3" x2="2263.4" y2="779.8" stroke="#000" stroke-width="3.1" stroke-linecap="round"/>
<line x1="2347.6" y1="772.3" x2="2347.6" y2="786.8" stroke="#000" stroke-width="3.1" stroke-linecap="round"/>
<text x="1337.6" y="847.5" font-size="65" text-anchor="middle" >156</text>
<text x="1505.9" y="847.5" font-size="65" text-anchor="middle" >158</text>
<text x="1674.3" y="847.5" font-size="65" text-anchor="middle" >160</text>
<text x="1842.6" y="847.5" font-size="65" text-anchor="middle" >162</text>
<text x="2010.9" y="847.5" font-size="65" text-anchor="middle" >164</text>
<text x="2179.3" y="847.5" font-size="65" text-anchor="middle" >166</text>
<text x="2347.6" y="847.5" font-size="65" text-anchor="middle" >168</text>
<path d="M1338 720.8 C1356.6 720.8 1420.7 721 1449.4 720.8 C1478.1 720.6 1490.1 720.2 1510 719.5 C1529.9 718.8 1552.5 718.6 1568.9 716.8 C1585.4 715 1595.4 711.5 1608.7 708.9 C1622 706.2 1635.2 703 1648.5 700.9 C1661.8 698.8 1675 697.1 1688.3 696.1 C1701.6 695.1 1709.5 695.1 1728.1 695 C1746.7 694.9 1771.6 695.3 1800 695.4 C1828.4 695.5 1865.6 695.8 1898.4 695.4 C1931.2 695 1972.1 694.3 1996.7 693.1 C2021.3 691.9 2030.6 690.2 2045.9 688.2 C2061.2 686.2 2074.8 682.9 2088.5 681 C2102.2 679.1 2110.4 677.7 2127.9 676.7 C2145.4 675.7 2171.6 675.5 2193.4 675.1 C2215.2 674.7 2233.6 675.2 2259 674.4 C2284.4 673.6 2331.4 670.9 2345.9 670.2" fill="none" stroke="#ff0000" stroke-width="6" stroke-linejoin="round" stroke-linecap="round" />
<path d="M1338 716.5 L1339.5 716.7 L1341.2 716.8 L1343.2 716.5 L1345.5 716.1 L1348 716.1 L1350.7 716.2 L1353.5 716.3 L1356.5 715.7 L1359.7 715.3 L1363 715.4 L1366.3 715.3 L1369.8 715.3 L1372 715.2 L1374.3 714.7 L1376.7 714.3 L1379.2 714.7 L1381.8 714 L1384.5 713.4 L1387.2 712.9 L1390 712.8 L1392.9 712.6 L1395.7 712.3 L1398.5 712 L1401.4 711.8 L1404.2 711.7 L1406.9 711.5 L1409.6 711.1 L1412.2 710.3 L1414.7 710.4 L1417.1 709.8 L1419.4 709.7 L1421.6 709.2 L1425 709.2 L1428.1 708.8 L1431.1 708.8 L1434 709.5 L1436.7 708.9 L1439.2 708.8 L1441.7 708.1 L1444.1 707.9 L1446.5 707.9 L1448.8 707.6 L1451.1 707.4 L1453.4 707 L1456.4 706.2 L1459.2 705.8 L1461.8 705 L1464.3 704.8 L1466.8 703.8 L1469.3 703.1 L1471.9 702.2 L1474.5 701.4 L1477.3 700.1 L1479.5 699.5 L1481.8 698.5 L1484.1 697.8 L1486.5 696.9 L1488.8 695.8 L1491.3 694.6 L1493.7 693.6 L1496.1 692.5 L1498.4 691.5 L1500.7 690 L1503 688.6 L1505.2 687.1 L1507.2 685.6 L1509.1 684.1 L1511.1 682.5 L1513 680.8 L1514.9 679 L1516.8 677.3 L1518.6 675.6 L1520.5 673.7 L1522.2 671.8 L1524 669.7 L1525.7 667.6 L1527.4 665.4 L1529 663.1 L1530.3 661.2 L1531.6 659.3 L1532.8 657.3 L1534 655.3 L1535.2 653.3 L1536.4 651.2 L1537.5 649 L1538.6 646.8 L1539.7 644.6 L1540.8 642.3 L1541.9 639.9 L1542.9 637.5 L1544 635.1 L1545 632.5 L1546 629.9 L1547 627.3 L1547.8 625.1 L1548.6 622.9 L1549.3 620.6 L1550.1 618.2 L1550.9 615.8 L1551.6 613.3 L1552.3 610.8 L1553 608.3 L1553.8 605.7 L1554.5 603.1 L1555.1 600.6 L1555.8 597.9 L1556.5 595.3 L1557.2 592.7 L1557.8 590.1 L1558.4 587.6 L1559.1 585 L1559.7 582.5 L1560.3 580 L1560.9 577.5 L1561.5 575 L1562.1 572.5 L1562.7 570 L1563.2 567.6 L1563.8 565.2 L1564.3 562.8 L1564.8 560.4 L1565.3 558 L1565.8 555.7 L1566.3 553.3 L1566.8 550.8 L1567.3 548.4 L1567.8 545.9 L1568.3 543.4 L1568.8 540.8 L1569.3 538.1 L1569.8 535.4 L1570.3 532.6 L1570.8 529.7 L1571.2 527.5 L1571.6 525.2 L1572 522.9 L1572.4 520.7 L1572.8 518.4 L1573.2 516 L1573.5 513.7 L1573.9 511.3 L1574.3 508.9 L1574.7 506.5 L1575.1 504.1 L1575.5 501.6 L1575.9 499.1 L1576.3 496.5 L1576.7 494 L1577.1 491.3 L1577.5 488.7 L1577.9 486 L1578.3 483.3 L1578.7 480.5 L1579.1 477.7 L1579.5 474.9 L1579.9 471.9 L1580.4 469 L1580.8 466 L1581.1 463.8 L1581.4 461.6 L1581.8 459.4 L1582.1 457.1 L1582.4 454.8 L1582.7 452.5 L1583.1 450.2 L1583.4 447.8 L1583.7 445.4 L1584.1 443 L1584.4 440.5 L1584.7 438.1 L1585.1 435.6 L1585.4 433.1 L1585.8 430.6 L1586.1 428.1 L1586.5 425.5 L1586.8 423 L1587.1 420.4 L1587.5 417.8 L1587.8 415.2 L1588.2 412.6 L1588.5 410 L1588.9 407.4 L1589.2 404.8 L1589.6 402.2 L1589.9 399.5 L1590.3 396.9 L1590.6 394.3 L1591 391.6 L1591.3 389 L1591.7 386.4 L1592 383.7 L1592.4 381.1 L1592.7 378.5 L1593 376.1 L1593.3 373.7 L1593.7 371.2 L1594 368.8 L1594.3 366.3 L1594.6 363.8 L1594.9 361.3 L1595.3 358.8 L1595.6 356.3 L1595.9 353.8 L1596.2 351.3 L1596.6 348.8 L1596.9 346.2 L1597.2 343.7 L1597.5 341.2 L1597.9 338.6 L1598.2 336.1 L1598.5 333.5 L1598.8 330.9 L1599.1 328.4 L1599.5 325.8 L1599.8 323.3 L1600.1 320.7 L1600.4 318.2 L1600.7 315.6 L1601.1 313.1 L1601.4 310.5 L1601.7 308 L1602 305.4 L1602.3 302.9 L1602.6 300.4 L1602.9 297.9 L1603.2 295.3 L1603.5 292.8 L1603.8 290.3 L1604.1 287.8 L1604.4 285.4 L1604.7 282.9 L1605 280.3 L1605.3 277.7 L1605.6 275 L1605.9 272.4 L1606.2 269.7 L1606.5 267 L1606.8 264.3 L1607 261.6 L1607.3 258.9 L1607.6 256.2 L1607.9 253.5 L1608.2 250.8 L1608.4 248.1 L1608.7 245.4 L1609 242.7 L1609.2 240 L1609.5 237.3 L1609.8 234.7 L1610 232 L1610.3 229.4 L1610.6 226.8 L1610.8 224.2 L1611.1 221.6 L1611.4 219.1 L1611.6 216.6 L1611.9 214.1 L1612.2 211.7 L1612.4 209.3 L1612.7 206.9 L1613 204.5 L1613.2 202.2 L1613.5 200 L1613.8 197.8 L1614.1 195.6 L1614.3 193.5 L1614.6 191.4 L1615.1 188.1 L1615.5 184.9 L1616 181.8 L1616.4 178.9 L1616.9 176 L1617.3 173.2 L1617.8 170.5 L1618.2 167.8 L1618.7 165.2 L1619.1 162.7 L1619.6 160.3 L1620.1 157.9 L1620.5 155.5 L1621 153.2 L1621.4 150.9 L1621.9 148.7 L1622.3 146.5 L1622.8 144.3 L1623.2 142.1 L1623.7 139.9 L1624.1 137.8 L1624.6 135.6 L1625.2 132.6 L1625.9 129.6 L1626.5 126.6 L1627.1 123.7 L1627.8 120.8 L1628.4 118 L1629 115.2 L1629.7 112.5 L1630.3 109.9 L1630.9 107.5 L1631.5 105.1 L1632.2 102.9 L1632.8 100.9 L1633.4 99 L1633.9 97.3 L1634.5 95.8 L1637.3 91.2 L1639.9 90.9 L1642.5 91.3 L1645.2 90.7 L1647.8 91.6 L1650.5 95.8 L1651.1 97.4 L1651.6 99.1 L1652.2 101.1 L1652.8 103.2 L1653.3 105.5 L1653.9 108 L1654.5 110.6 L1655 113.3 L1655.6 116.1 L1656.1 119.1 L1656.7 122.1 L1657.3 125.3 L1657.8 128.5 L1658.4 131.7 L1658.8 133.8 L1659.1 135.8 L1659.5 137.8 L1659.8 139.9 L1660.2 141.9 L1660.5 144 L1660.9 146 L1661.2 148.1 L1661.6 150.3 L1661.9 152.5 L1662.3 154.8 L1662.6 157.2 L1663 159.6 L1663.3 162.2 L1663.7 164.9 L1664.1 167.6 L1664.5 170.6 L1664.8 173.6 L1665.2 176.8 L1665.6 180.2 L1666 183.7 L1666.4 187.4 L1666.6 189.3 L1666.8 191.3 L1667 193.4 L1667.2 195.4 L1667.4 197.6 L1667.6 199.8 L1667.8 202 L1668.1 204.3 L1668.3 206.6 L1668.5 209 L1668.7 211.4 L1668.9 213.8 L1669.1 216.3 L1669.3 218.8 L1669.6 221.3 L1669.8 223.8 L1670 226.4 L1670.2 229 L1670.4 231.7 L1670.7 234.3 L1670.9 237 L1671.1 239.7 L1671.3 242.4 L1671.6 245.1 L1671.8 247.8 L1672 250.5 L1672.2 253.3 L1672.5 256 L1672.7 258.8 L1672.9 261.5 L1673.2 264.2 L1673.4 267 L1673.6 269.7 L1673.9 272.5 L1674.1 275.2 L1674.3 277.9 L1674.6 280.6 L1674.8 283.3 L1675.1 285.9 L1675.3 288.6 L1675.6 291.2 L1675.8 293.8 L1676.1 296.4 L1676.3 298.9 L1676.6 301.4 L1676.8 304 L1677.1 306.6 L1677.3 309.2 L1677.6 311.7 L1677.8 314.4 L1678.1 317 L1678.4 319.6 L1678.7 322.2 L1678.9 324.9 L1679.2 327.5 L1679.5 330.1 L1679.8 332.8 L1680 335.5 L1680.3 338.1 L1680.6 340.8 L1680.9 343.4 L1681.2 346.1 L1681.4 348.7 L1681.7 351.3 L1682 354 L1682.3 356.6 L1682.6 359.2 L1682.9 361.8 L1683.2 364.4 L1683.4 367 L1683.7 369.6 L1684 372.1 L1684.3 374.7 L1684.6 377.2 L1684.8 379.7 L1685.1 382.2 L1685.4 384.7 L1685.7 387.1 L1685.9 389.6 L1686.2 392 L1686.5 394.4 L1686.8 396.7 L1687 399.1 L1687.3 401.4 L1687.5 403.6 L1687.8 405.9 L1688 408.1 L1688.3 410.3 L1688.6 413.3 L1689 416.1 L1689.3 419 L1689.6 421.7 L1689.9 424.4 L1690.2 427.1 L1690.5 429.7 L1690.8 432.2 L1691.1 434.8 L1691.4 437.3 L1691.7 439.7 L1692 442.1 L1692.3 444.5 L1692.6 446.9 L1692.8 449.2 L1693.1 451.6 L1693.4 453.9 L1693.7 456.2 L1694 458.5 L1694.3 460.9 L1694.6 463.2 L1694.9 465.5 L1695.2 467.8 L1695.5 470.2 L1695.8 472.5 L1696.1 474.9 L1696.5 477.3 L1696.8 479.8 L1697.1 482.3 L1697.5 484.8 L1697.8 487.3 L1698.2 489.9 L1698.5 492.3 L1698.9 494.7 L1699.2 497.2 L1699.6 499.7 L1700 502.3 L1700.3 504.8 L1700.7 507.4 L1701.1 510 L1701.4 512.6 L1701.8 515.2 L1702.2 517.9 L1702.6 520.5 L1703 523.1 L1703.4 525.8 L1703.8 528.5 L1704.2 531.1 L1704.6 533.7 L1705 536.4 L1705.4 539 L1705.8 541.6 L1706.2 544.2 L1706.6 546.8 L1707 549.4 L1707.4 551.9 L1707.9 554.4 L1708.3 556.9 L1708.7 559.3 L1709.1 561.8 L1709.5 564.1 L1710 566.5 L1710.4 568.8 L1710.8 571 L1711.2 573.2 L1711.7 575.4 L1712.1 577.5 L1712.8 580.6 L1713.4 583.7 L1714.1 586.7 L1714.8 589.7 L1715.4 592.6 L1716.1 595.4 L1716.8 598.2 L1717.5 601 L1718.2 603.6 L1718.9 606.3 L1719.6 608.8 L1720.3 611.3 L1721 613.8 L1721.8 616.2 L1722.5 618.5 L1723.2 620.8 L1723.9 623 L1724.6 625.2 L1725.3 627.3 L1726 629.4 L1726.7 631.4 L1727.4 633.3 L1728.1 635.2 L1729.4 638.6 L1730.7 641.7 L1732.1 644.6 L1733.4 647.2 L1734.7 649.6 L1736 651.8 L1737.3 653.8 L1738.6 655.7 L1739.9 657.7 L1741.3 659.5 L1742.6 661.3 L1743.9 663.2 L1745.7 665.5 L1747.5 667.6 L1749.3 669.6 L1751.1 671.4 L1752.9 673.1 L1754.7 674.7 L1756.5 676 L1758.2 677.5 L1759.9 678.9 L1762.2 681 L1764.1 682.7 L1766 684.2 L1768.1 685.6 L1770.7 687.2 L1773.9 688.3 L1775.8 688.8 L1778 689.2 L1780.3 689.7 L1782.7 690.2 L1785.2 690.8 L1787.9 690.5 L1790.5 691.1 L1793.2 691.3 L1795.9 691.4 L1798.6 692.3 L1801.2 692.2 L1803.7 692.8 L1806.4 693 L1809 692.8 L1811.6 693.3 L1814.2 693.7 L1816.8 693.8 L1819.4 693.5 L1822 693.9 L1824.6 694.2 L1827.3 694.2 L1830 695 L1832.8 694.9 L1835.2 694.7 L1837.6 694.7 L1840.1 694.5 L1842.6 694.3 L1845.1 694.4 L1847.7 694.3 L1850.2 694.1 L1852.8 693.9 L1855.4 693.4 L1858 693.6 L1860.5 693.2 L1863.1 693.2 L1865.6 692.8 L1868.1 692.7 L1870.6 692.8 L1873.2 692.4 L1875.7 693.2 L1878.2 692.9 L1880.7 692.7 L1883.3 692.3 L1885.8 692.7 L1888.3 692.7 L1890.8 692.2 L1893.4 691.5 L1895.9 691.1 L1898.4 690.8 L1901 690.1 L1903.6 689.3 L1906.2 688.4 L1908.9 687.7 L1911.6 687 L1914.3 686 L1916.9 685.2 L1919.5 684.8 L1922.1 684 L1924.5 682.6 L1926.8 681.7 L1929 680.8 L1931.1 680 L1934.1 679.1 L1936.9 677.9 L1939.3 676.9 L1941.6 675.9 L1943.7 675 L1945.8 674.2 L1947.9 673.1 L1950 671.6 L1952.1 670.3 L1954.1 668.9 L1956.1 667.6 L1958 666.2 L1959.9 664.6 L1961.8 662.9 L1963.7 660.9 L1965.8 659.1 L1967.5 657.4 L1969.4 655.6 L1971.3 653.6 L1973.3 651.6 L1975.2 649.5 L1977.1 647.3 L1979 645.3 L1980.7 643.2 L1982.3 641.1 L1983.7 639.1 L1985.2 636.6 L1986.5 634.2 L1987.6 631.8 L1988.6 629.4 L1989.5 627 L1990.4 624.7 L1991.2 622.4 L1992.1 620.1 L1993.1 617.6 L1994 615.3 L1994.8 613 L1995.6 610.7 L1996.4 608.3 L1997.4 605.9 L1998.5 603.2 L1999.5 601 L2000.7 598.6 L2001.9 596.1 L2003.2 593.6 L2004.5 591 L2005.8 588.4 L2007 585.9 L2008.1 583.4 L2009 581.1 L2009.9 578.2 L2010.6 575.5 L2011.2 572.8 L2011.7 570.2 L2012.1 567.6 L2012.6 564.9 L2013.2 562.1 L2013.8 559.6 L2014.4 557 L2015.1 554.4 L2015.8 551.7 L2016.5 549.1 L2017.1 546.4 L2017.8 543.7 L2018.5 541.1 L2019.2 538.4 L2019.9 535.8 L2020.6 533.1 L2021.2 530.4 L2021.9 527.7 L2022.6 525.1 L2023.2 522.5 L2023.8 520 L2024.4 517.6 L2024.8 515.8 L2025.2 514.3 L2025.7 512.5 L2026.1 510.1 L2026.7 506.7 L2027.5 502 L2027.8 500.3 L2028 498.6 L2028.3 496.7 L2028.6 494.8 L2028.9 492.7 L2029.2 490.6 L2029.5 488.4 L2029.8 486.1 L2030.2 483.8 L2030.5 481.4 L2030.9 478.9 L2031.2 476.4 L2031.6 473.8 L2031.9 471.1 L2032.3 468.4 L2032.7 465.6 L2033.1 462.8 L2033.5 460 L2033.9 457.1 L2034.3 454.2 L2034.8 451.3 L2035.2 448.3 L2035.7 445.3 L2036.1 442.3 L2036.4 440.1 L2036.8 437.9 L2037.1 435.7 L2037.4 433.4 L2037.8 431 L2038.1 428.7 L2038.5 426.2 L2038.9 423.8 L2039.2 421.3 L2039.6 418.8 L2040 416.2 L2040.4 413.7 L2040.8 411.1 L2041.2 408.5 L2041.6 405.9 L2042 403.3 L2042.4 400.6 L2042.8 398 L2043.2 395.3 L2043.6 392.7 L2044 390 L2044.4 387.4 L2044.8 384.8 L2045.2 382.1 L2045.6 379.5 L2046 376.9 L2046.4 374.3 L2046.8 371.8 L2047.2 369.3 L2047.6 366.7 L2048 364.3 L2048.4 361.8 L2048.8 359.4 L2049.2 357 L2049.6 354.3 L2050.1 351.6 L2050.5 348.9 L2051 346.1 L2051.4 343.4 L2051.9 340.6 L2052.4 337.8 L2052.8 335.1 L2053.3 332.3 L2053.7 329.6 L2054.2 326.8 L2054.7 324.1 L2055.1 321.4 L2055.6 318.7 L2056.1 316 L2056.5 313.4 L2057 310.8 L2057.4 308.2 L2057.9 305.7 L2058.3 303.2 L2058.7 300.8 L2059.2 298.4 L2059.6 296.1 L2060 293.8 L2060.4 291.6 L2060.8 289.4 L2061.2 287.4 L2061.6 285.4 L2061.9 283.4 L2062.3 281.6 L2063.1 277.7 L2063.8 274.2 L2064.5 271 L2065.2 268.2 L2065.8 265.6 L2066.4 263.3 L2067 261.1 L2067.6 259.1 L2068.1 257.1 L2068.7 255.1 L2069.3 253.1 L2069.9 251.1 L2070.5 248.9 L2071.3 246.2 L2072 243.5 L2072.8 240.8 L2073.6 238.2 L2074.3 235.6 L2075.1 233.1 L2075.8 230.8 L2076.6 228.5 L2077.3 226.4 L2078 224.4 L2078.7 222.6 L2080.1 219.1 L2081.3 216.2 L2082.4 213.9 L2083.7 212.2 L2085.2 210.9 L2087 211.8 L2089.1 213.3 L2091.2 215.3 L2093.3 217.9 L2095.1 221 L2095.9 222.8 L2096.6 224.7 L2097.3 226.7 L2097.9 228.9 L2098.6 231.2 L2099.2 233.7 L2099.7 236.4 L2100.3 239.3 L2101 242.3 L2101.6 245.6 L2102 247.6 L2102.4 249.7 L2102.7 251.8 L2103.1 254 L2103.4 256.2 L2103.8 258.5 L2104.2 260.9 L2104.5 263.3 L2104.9 265.8 L2105.2 268.4 L2105.6 271 L2106 273.7 L2106.4 276.4 L2106.8 279.3 L2107.3 282.2 L2107.7 285.2 L2108.2 288.2 L2108.5 290.3 L2108.9 292.5 L2109.2 294.8 L2109.6 297.1 L2110 299.5 L2110.3 301.9 L2110.7 304.3 L2111.1 306.8 L2111.5 309.3 L2111.9 311.9 L2112.3 314.4 L2112.7 317 L2113.1 319.6 L2113.5 322.2 L2113.9 324.9 L2114.3 327.5 L2114.7 330.1 L2115.2 332.7 L2115.6 335.3 L2116 337.9 L2116.4 340.5 L2116.8 343.1 L2117.2 345.6 L2117.6 348.1 L2118 350.5 L2118.4 353.1 L2118.9 355.7 L2119.3 358.4 L2119.8 361 L2120.2 363.5 L2120.7 366.1 L2121.1 368.7 L2121.6 371.3 L2122 373.8 L2122.5 376.4 L2122.9 378.9 L2123.4 381.5 L2123.8 384 L2124.3 386.6 L2124.7 389.1 L2125.1 391.6 L2125.6 394.2 L2126 396.7 L2126.4 399.3 L2126.8 401.8 L2127.2 404.4 L2127.5 406.9 L2127.9 409.5 L2128.2 412.1 L2128.6 414.7 L2128.9 417.2 L2129.2 419.8 L2129.5 422.4 L2129.8 425.1 L2130 427.7 L2130.3 430.3 L2130.5 432.9 L2130.8 435.5 L2131 438.1 L2131.3 440.7 L2131.5 443.3 L2131.8 445.9 L2132 448.5 L2132.3 451 L2132.5 453.6 L2132.8 456.1 L2133.1 458.6 L2133.4 461.1 L2133.7 463.6 L2134.1 466.1 L2134.4 468.5 L2134.8 471.1 L2135.2 473.7 L2135.6 476.3 L2136 478.8 L2136.5 481.3 L2136.9 483.8 L2137.3 486.2 L2137.8 488.7 L2138.2 491.1 L2138.7 493.5 L2139.2 496 L2139.7 498.4 L2140.1 500.8 L2140.6 503.3 L2141.1 505.7 L2141.6 508.2 L2142.2 510.7 L2142.7 513.2 L2143.2 515.8 L2143.8 518.4 L2144.3 521 L2144.8 523.4 L2145.3 525.8 L2145.8 528.2 L2146.3 530.7 L2146.8 533.2 L2147.3 535.8 L2147.9 538.3 L2148.4 540.9 L2149 543.5 L2149.5 546.1 L2150.1 548.7 L2150.7 551.3 L2151.2 553.9 L2151.8 556.5 L2152.3 559 L2152.9 561.6 L2153.5 564 L2154.1 566.5 L2154.6 568.9 L2155.2 571.2 L2155.7 573.5 L2156.3 575.8 L2156.9 577.9 L2157.4 580 L2158.2 583 L2159 586 L2159.9 588.8 L2160.7 591.6 L2161.5 594.3 L2162.3 596.9 L2163.1 599.4 L2163.9 601.9 L2164.8 604.3 L2165.6 606.6 L2166.4 608.9 L2167.2 611.1 L2168 613.2 L2168.9 615.3 L2169.7 617.3 L2170.5 619.3 L2171.8 622.3 L2173.1 625.1 L2174.4 627.7 L2175.7 630.1 L2177 632.3 L2178.4 634.5 L2179.7 636.6 L2181 638.5 L2182.3 640.4 L2183.6 642.3 L2185.4 644.9 L2187.2 647.3 L2189 649.5 L2190.9 651.5 L2192.7 653.5 L2194.7 655.3 L2196.7 656.9 L2198.8 658.4 L2201 660 L2203.3 661 L2205.7 661.9 L2208.1 663.1 L2210.6 663.9 L2213.1 664.9 L2215.2 666.1 L2217.3 666.9 L2219.2 667.6 L2221.3 668.9 L2223.6 670.2 L2226.2 670.7 L2229.2 671.5 L2232.8 672.4 L2234.7 672.2 L2236.8 672.5 L2239 672.7 L2241.4 673.1 L2243.8 672.9 L2246.4 673.6 L2249 673.7 L2251.7 674 L2254.4 673.9 L2257.2 673.5 L2259.9 673.8 L2262.6 673.7 L2265.3 674 L2268 674 L2270.5 674.1 L2273 674.2 L2275.4 674.5 L2278.2 674.7 L2280.9 674.3 L2283.6 674.3 L2286.2 674.7 L2288.8 674.6 L2291.4 674.3 L2294 674.2 L2296.5 674 L2299 674.2 L2301.5 674 L2304 674 L2306.5 674.3 L2309 673.5 L2311.5 673.1 L2314.3 672.7 L2317.2 672.3 L2320.3 672.6 L2323.3 672.5 L2326.4 672.6 L2329.5 671.6 L2332.4 671.2 L2335.3 671.5 L2337.9 671.4 L2340.3 671.2 L2342.5 670.9 L2344.4 670.6 L2345.9 670.3" fill="none" stroke="#000" stroke-width="4.5" stroke-linejoin="round" stroke-linecap="round" />
<text x="1340.5" y="107" font-size="100" text-anchor="start" fill="#0c0c0c" stroke="#000" stroke-width="1.5" letter-spacing="3">(b)</text>
<text x="1529.5" y="83.2" font-size="51" text-anchor="start" >Bi 4f7/2</text>
<text x="1885.5" y="222.6" font-size="51" text-anchor="start" >Bi 4f5/2</text>
<line x1="1952" y1="67.5" x2="2066.5" y2="67.5" stroke="#000" stroke-width="5.5" stroke-linecap="round"/>
<line x1="1952" y1="132.5" x2="2066.5" y2="132.5" stroke="#ff0000" stroke-width="5.5" stroke-linecap="round"/>
<text x="2080" y="84.4" font-size="51" text-anchor="start" >Bi 4f</text>
<text x="2082" y="149.1" font-size="50.4" text-anchor="start" >background</text>
<text transform="translate(1294.4 422.2) rotate(-90)" x="0" y="0" font-size="65.5" text-anchor="middle">Intensity(a.u.)</text>
<text x="1842" y="915.3" font-size="65" text-anchor="middle" >Binding energy(eV)</text>
<clipPath id="clipC"><rect x="0" y="900" width="1213.6" height="995"/></clipPath>
<g clip-path="url(#clipC)">
<line x1="147.3" y1="944.3" x2="147.3" y2="1697.8" stroke="#000" stroke-width="3.1" stroke-linecap="butt"/>
<line x1="1167.3" y1="944.3" x2="1167.3" y2="1697.8" stroke="#000" stroke-width="3.1" stroke-linecap="butt"/>
<line x1="145.8" y1="1696.2" x2="1168.8" y2="1696.2" stroke="#000" stroke-width="3.1" stroke-linecap="butt"/>
<line x1="145.8" y1="944.3" x2="1168.8" y2="944.3" stroke="#000" stroke-width="3.1" stroke-linecap="butt"/>
<line x1="147.3" y1="1696.2" x2="147.3" y2="1710.7" stroke="#000" stroke-width="3.1" stroke-linecap="round"/>
<line x1="211.1" y1="1696.2" x2="211.1" y2="1703.7" stroke="#000" stroke-width="3.1" stroke-linecap="round"/>
<line x1="274.8" y1="1696.2" x2="274.8" y2="1710.7" stroke="#000" stroke-width="3.1" stroke-linecap="round"/>
<line x1="338.6" y1="1696.2" x2="338.6" y2="1703.7" stroke="#000" stroke-width="3.1" stroke-linecap="round"/>
<line x1="402.3" y1="1696.2" x2="402.3" y2="1710.7" stroke="#000" stroke-width="3.1" stroke-linecap="round"/>
<line x1="466.1" y1="1696.2" x2="466.1" y2="1703.7" stroke="#000" stroke-width="3.1" stroke-linecap="round"/>
<line x1="529.8" y1="1696.2" x2="529.8" y2="1710.7" stroke="#000" stroke-width="3.1" stroke-linecap="round"/>
<line x1="593.5" y1="1696.2" x2="593.5" y2="1703.7" stroke="#000" stroke-width="3.1" stroke-linecap="round"/>
<line x1="657.3" y1="1696.2" x2="657.3" y2="1710.7" stroke="#000" stroke-width="3.1" stroke-linecap="round"/>
<line x1="721" y1="1696.2" x2="721" y2="1703.7" stroke="#000" stroke-width="3.1" stroke-linecap="round"/>
<line x1="784.8" y1="1696.2" x2="784.8" y2="1710.7" stroke="#000" stroke-width="3.1" stroke-linecap="round"/>
<line x1="848.5" y1="1696.2" x2="848.5" y2="1703.7" stroke="#000" stroke-width="3.1" stroke-linecap="round"/>
<line x1="912.3" y1="1696.2" x2="912.3" y2="1710.7" stroke="#000" stroke-width="3.1" stroke-linecap="round"/>
<line x1="976" y1="1696.2" x2="976" y2="1703.7" stroke="#000" stroke-width="3.1" stroke-linecap="round"/>
<line x1="1039.8" y1="1696.2" x2="1039.8" y2="1710.7" stroke="#000" stroke-width="3.1" stroke-linecap="round"/>
<line x1="1103.5" y1="1696.2" x2="1103.5" y2="1703.7" stroke="#000" stroke-width="3.1" stroke-linecap="round"/>
<line x1="1167.3" y1="1696.2" x2="1167.3" y2="1710.7" stroke="#000" stroke-width="3.1" stroke-linecap="round"/>
<text x="147.3" y="1773" font-size="65" text-anchor="middle" >512</text>
<text x="274.8" y="1773" font-size="65" text-anchor="middle" >514</text>
<text x="402.3" y="1773" font-size="65" text-anchor="middle" >516</text>
<text x="529.8" y="1773" font-size="65" text-anchor="middle" >518</text>
<text x="657.3" y="1773" font-size="65" text-anchor="middle" >520</text>
<text x="784.8" y="1773" font-size="65" text-anchor="middle" >522</text>
<text x="912.3" y="1773" font-size="65" text-anchor="middle" >524</text>
<text x="1039.8" y="1773" font-size="65" text-anchor="middle" >526</text>
<text x="1167.3" y="1773" font-size="65" text-anchor="middle" >528</text>
</g>
<path d="M147.9 1589.1 C167.7 1589 230.9 1589 266.5 1588.5 C302.1 1588 337.6 1587.4 361.3 1585.9 C385 1584.4 393 1582.8 408.8 1579.6 C424.6 1576.4 443 1571.2 456.2 1567 C469.4 1562.8 477.3 1558 487.8 1554.3 C498.3 1550.6 508.8 1547.2 519.4 1544.8 C529.9 1542.4 537.9 1541.2 551.1 1540.1 C564.3 1538.9 580.4 1538.6 598.5 1537.9 C616.6 1537.2 634 1536.8 660 1536.1 C686 1535.4 723.2 1534.8 754.8 1533.6 C786.4 1532.4 818.1 1531.3 849.7 1528.9 C881.3 1526.5 915.5 1522.3 944.5 1519.4 C973.5 1516.5 997.1 1513.3 1023.5 1511.5 C1049.8 1509.7 1078.9 1509.1 1102.6 1508.3 C1126.3 1507.5 1155.3 1507 1165.8 1506.7" fill="none" stroke="#ff0000" stroke-width="6" stroke-linejoin="round" stroke-linecap="round" />
<path d="M147.9 1587.9 L149.4 1588.2 L151.1 1588.1 L153.1 1587.8 L155.4 1588.2 L157.8 1587.9 L160.5 1587.5 L163.2 1588 L166.1 1587.3 L169.1 1586.5 L172.2 1586 L175.3 1585.9 L178.4 1586.3 L181.4 1586.5 L184.5 1586.6 L187.4 1586.9 L189.7 1587 L192.1 1586.6 L194.6 1586.7 L197.2 1586.4 L199.7 1585.8 L202.4 1586 L205 1585.8 L207.7 1585.5 L210.3 1586.3 L213 1586.2 L215.6 1585.6 L218.2 1585.5 L220.8 1586.4 L223.3 1585.8 L225.8 1585.9 L228.2 1585.9 L230.5 1585.8 L232.8 1585.8 L234.9 1585.4 L238.1 1585.2 L241.2 1585.2 L244.2 1585.3 L247.1 1585.8 L249.8 1586.4 L252.5 1585.8 L255 1586.1 L257.5 1585.6 L259.9 1585.4 L262.1 1585.5 L264.4 1585.5 L266.5 1585.1 L269.5 1583.7 L272.1 1583.9 L274.4 1582.9 L276.6 1581.8 L278.7 1581 L280.8 1579.7 L283.1 1578.4 L285.5 1577.9 L287.9 1577.5 L290.3 1576.6 L292.9 1576.5 L295.5 1576.1 L298 1575.1 L300.6 1575.4 L303.1 1574.8 L305.4 1573.7 L307.6 1573.4 L310.6 1572.5 L313.5 1571.9 L316.1 1570.4 L318.6 1569.8 L321 1568.7 L323.4 1567.3 L325.7 1565.6 L327.8 1563.9 L329.9 1561.9 L331.9 1559.7 L333.9 1557.4 L335.9 1555.2 L337.6 1553.1 L339.3 1550.9 L341 1548.6 L342.6 1546.3 L344.3 1543.8 L345.9 1541.4 L347.6 1538.9 L349.1 1536.8 L350.6 1534.8 L352.1 1532.7 L353.5 1530.5 L355 1528.3 L356.5 1526 L357.9 1523.7 L359.3 1521.4 L360.5 1519.3 L361.7 1517.1 L362.9 1514.8 L364.1 1512.5 L365.2 1510.2 L366.4 1507.9 L367.5 1505.6 L368.5 1503.3 L369.5 1501 L370.5 1498.5 L371.5 1496 L372.3 1493.6 L373.1 1491.1 L374 1488.6 L374.8 1486 L375.8 1483.3 L376.8 1480.5 L377.6 1478.3 L378.5 1476.1 L379.4 1473.7 L380.4 1471.3 L381.4 1468.9 L382.4 1466.4 L383.3 1463.9 L384.3 1461.5 L385.3 1459 L386.2 1456.5 L387.1 1454.1 L388 1451.7 L388.8 1449.2 L389.6 1446.7 L390.4 1444.2 L391.2 1441.6 L392 1439.2 L392.8 1436.7 L393.6 1434.3 L394.3 1432.1 L395.1 1429.9 L395.8 1427.8 L396.9 1424.9 L397.8 1422.6 L398.7 1420.4 L399.6 1418.3 L400.6 1416.1 L401.8 1413.4 L403.2 1410.2 L404 1408.3 L404.9 1406.3 L405.9 1404.1 L406.9 1401.9 L408 1399.5 L409.1 1397.1 L410.2 1394.6 L411.4 1392.2 L412.5 1389.6 L413.6 1387.2 L414.7 1384.8 L415.8 1382.4 L416.8 1380.2 L417.8 1378 L419 1375.4 L420.1 1372.8 L421.2 1370.3 L422.3 1367.9 L423.4 1365.5 L424.4 1363.1 L425.5 1360.8 L426.5 1358.5 L427.5 1356.2 L428.5 1353.9 L429.5 1351.7 L430.6 1349.3 L431.7 1346.9 L432.8 1344.7 L433.8 1342.4 L434.9 1340.2 L435.9 1338 L436.9 1335.7 L437.9 1333.3 L438.8 1330.9 L439.7 1328.3 L440.4 1326 L441.1 1323.6 L441.8 1321.1 L442.4 1318.5 L443.1 1315.9 L443.7 1313.3 L444.3 1310.7 L444.9 1308.1 L445.4 1305.6 L446 1303.3 L446.5 1301.1 L447.1 1299 L448 1296 L448.9 1293.5 L449.7 1291.2 L450.5 1289.1 L451.3 1286.9 L452.1 1284.4 L452.9 1281.4 L453.4 1279.2 L453.9 1276.8 L454.5 1274.3 L455 1271.6 L455.5 1268.9 L456 1266.1 L456.5 1263.3 L457.1 1260.5 L457.6 1257.7 L458.2 1254.9 L458.8 1252.2 L459.4 1249.8 L459.9 1247.5 L460.5 1245.2 L461.1 1242.9 L461.7 1240.6 L462.4 1238.3 L463 1235.9 L463.6 1233.5 L464.2 1231.1 L464.9 1228.5 L465.5 1225.8 L466.1 1222.9 L466.6 1220.6 L467 1218.2 L467.5 1215.7 L468 1213.1 L468.4 1210.5 L468.9 1207.7 L469.4 1205 L469.8 1202.2 L470.3 1199.5 L470.8 1196.7 L471.2 1194 L471.7 1191.4 L472.1 1188.8 L472.6 1186.4 L473 1184.1 L473.4 1181.9 L474.1 1178.6 L474.7 1175.6 L475.3 1172.7 L475.9 1170 L476.5 1167.5 L477.1 1165 L477.7 1162.6 L478.2 1160.3 L478.8 1157.9 L479.3 1155.6 L479.9 1152.7 L480.4 1149.9 L481 1147.2 L481.4 1144.5 L481.9 1142 L482.5 1139.6 L483 1137.3 L483.6 1135.1 L484.7 1131.9 L485.8 1128.9 L487 1126.3 L488.2 1124 L489.5 1122 L491.9 1119.1 L494.4 1117 L496.8 1116.3 L499.9 1115.5 L502.7 1117.1 L503.6 1118.5 L504.4 1120.3 L505.1 1122.6 L506 1125.6 L507 1129.3 L507.5 1131.1 L508.1 1133.2 L508.6 1135.3 L509.2 1137.7 L509.9 1140.1 L510.5 1142.7 L511.2 1145.3 L511.8 1147.9 L512.5 1150.6 L513.1 1153.3 L513.8 1155.9 L514.4 1158.5 L515 1160.9 L515.6 1163.3 L516.2 1165.7 L516.7 1168.2 L517.3 1170.7 L517.9 1173.2 L518.5 1175.7 L519.1 1178.2 L519.7 1180.7 L520.2 1183.2 L520.7 1185.7 L521.2 1188.2 L521.7 1190.7 L522.2 1193.3 L522.6 1195.9 L523 1198.4 L523.3 1200.9 L523.7 1203.4 L524 1205.9 L524.3 1208.4 L524.6 1211.1 L525 1213.8 L525.3 1216.7 L525.7 1219.7 L526.1 1222.9 L526.4 1225.2 L526.7 1227.6 L527 1230.1 L527.3 1232.7 L527.6 1235.3 L528 1238.1 L528.3 1240.8 L528.6 1243.7 L529 1246.5 L529.3 1249.3 L529.6 1252.1 L530 1254.9 L530.3 1257.6 L530.7 1260.2 L531 1262.7 L531.3 1265.2 L531.7 1267.5 L532 1269.7 L532.5 1273 L533 1275.9 L533.5 1278.6 L534 1281 L534.5 1283.4 L535 1285.7 L535.5 1288 L536 1290.4 L536.6 1293 L537.2 1295.9 L537.8 1299 L538.2 1301.2 L538.7 1303.6 L539.2 1306 L539.7 1308.6 L540.2 1311.2 L540.7 1313.9 L541.2 1316.6 L541.7 1319.4 L542.3 1322.2 L542.8 1324.9 L543.4 1327.7 L543.9 1330.4 L544.5 1333.1 L545 1335.7 L545.6 1338.2 L546.1 1340.6 L546.6 1342.9 L547.3 1345.8 L548 1348.6 L548.7 1351.4 L549.4 1354.1 L550.1 1356.7 L550.8 1359.2 L551.5 1361.7 L552.2 1364.1 L552.9 1366.4 L553.5 1368.7 L554.1 1370.9 L554.7 1373 L555.3 1375.1 L556.1 1378.1 L556.6 1380.5 L557.1 1382.6 L557.5 1384.6 L558 1386.6 L558.6 1389 L559.5 1391.9 L560.6 1395.6 L561.2 1397.4 L561.8 1399.4 L562.5 1401.5 L563.2 1403.8 L564 1406.2 L564.8 1408.6 L565.6 1411.2 L566.5 1413.8 L567.4 1416.4 L568.3 1419.1 L569.2 1421.7 L570.1 1424.4 L571.1 1426.9 L572 1429.5 L572.9 1431.9 L573.8 1434.2 L574.7 1436.5 L575.6 1438.6 L576.4 1440.5 L577.8 1443.6 L579.3 1446.4 L580.8 1449.1 L582.3 1451.6 L583.8 1453.9 L585.2 1456.2 L586.7 1458.3 L588.1 1460.3 L589.5 1462.2 L590.9 1464.1 L592.2 1465.8 L594.1 1468.5 L595.8 1470.8 L597.5 1472.8 L599.1 1474.6 L600.8 1476.3 L602.7 1478 L604.8 1479.8 L606.6 1481.5 L608.5 1483 L610.5 1484.6 L612.6 1485.9 L614.8 1487.1 L617 1488.6 L619.2 1489.9 L621.5 1490.9 L623.8 1492.4 L626.2 1494 L628.7 1495.1 L631.2 1496 L633.8 1497.1 L636.5 1498.1 L639 1499.3 L641.5 1500.1 L643.8 1501.2 L645.9 1502 L649.1 1503.3 L651.7 1502.9 L654.2 1502.1 L656.8 1503.3 L660 1503.9 L662 1504.2 L664 1505 L666.1 1505.5 L668.2 1506.4 L670.5 1507.6 L673 1508.3 L675.8 1509.1 L678.8 1509.8 L682.1 1510.1 L684.2 1510 L686.5 1510.2 L688.9 1510.5 L691.5 1510.5 L694.2 1509.6 L697 1509.6 L699.8 1508.4 L702.6 1507.9 L705.5 1508.2 L708.3 1508.2 L711.1 1508.4 L713.8 1507.1 L716.4 1507.5 L718.8 1506.9 L721.1 1506.6 L723.2 1506.8 L726.9 1507.2 L730.1 1506.6 L732.9 1506.1 L735.4 1506.4 L737.8 1506.8 L740.2 1507.5 L742.7 1507.4 L745.3 1506.8 L747.8 1506 L750.3 1505.3 L752.8 1504.9 L755.3 1503.4 L757.9 1502.4 L760.3 1501.3 L762.8 1500.9 L765.2 1499.9 L767.5 1498.7 L770 1497.9 L772.4 1497.3 L774.7 1496.1 L776.9 1494.4 L779.2 1493.2 L781.5 1492.5 L783.9 1490.9 L786.4 1489.7 L788.7 1489.2 L790.9 1489.2 L793.1 1488.6 L795.4 1488.6 L797.7 1488.2 L800.2 1487.9 L802.8 1486.8 L805.6 1485.3 L808.6 1483.7 L810.3 1483.3 L812.2 1482.5 L814.2 1481.3 L816.2 1479.6 L818.4 1477.9 L820.6 1476.5 L822.8 1474.8 L825 1473 L827.3 1471.4 L829.5 1469.7 L831.7 1468.2 L833.9 1466.6 L836 1465 L838 1463.5 L839.9 1462.1 L841.6 1460.6 L843.3 1459.3 L846 1457.1 L848.3 1455.5 L850.2 1453.8 L852 1452.4 L853.6 1451.1 L855.4 1449.7 L857.3 1447.6 L859.6 1445.7 L862.3 1443.6 L863.9 1442.1 L865.7 1440.6 L867.6 1438.9 L869.5 1437.3 L871.6 1435.7 L873.7 1433.7 L875.8 1432.1 L878 1430.2 L880.2 1428.5 L882.4 1426.6 L884.7 1424.9 L886.9 1423.1 L889 1421.3 L891.1 1419.6 L893.2 1418.2 L895.2 1416.7 L897.1 1415 L899.5 1413.4 L901.8 1411.4 L904 1409.7 L906.1 1407.7 L908.2 1406.4 L910.3 1405.2 L912.3 1403.7 L914.4 1402.5 L916.5 1401 L918.6 1399.8 L920.8 1398.5 L923.1 1397 L925.5 1396.5 L927.8 1395 L930.3 1393.6 L932.9 1392.9 L935.5 1392.2 L938.2 1391.3 L941 1390.4 L943.7 1389.7 L946.4 1389.1 L949 1388.4 L951.6 1387 L954 1387.1 L956.3 1386.3 L958.4 1384.9 L960.3 1385 L964 1383.9 L966.7 1383.1 L969 1383.1 L971.1 1382.3 L973.3 1382 L976.1 1382.4 L978.1 1383.4 L980.1 1384.5 L982.3 1385.5 L984.5 1386.7 L986.8 1387.5 L989.1 1389.3 L991.4 1391.1 L993.7 1392.6 L996 1394.3 L998.2 1395.9 L1000 1397.6 L1001.9 1399 L1003.7 1401 L1005.5 1402.7 L1007.3 1404.4 L1009.1 1406.2 L1010.9 1408.2 L1012.8 1410.2 L1014.6 1412.1 L1016.5 1414.1 L1018.4 1416.2 L1020.4 1418.3 L1022.1 1420.1 L1023.9 1422 L1025.7 1423.8 L1027.5 1426 L1029.3 1427.9 L1031.2 1429.8 L1033.1 1431.8 L1034.9 1434 L1036.8 1436.1 L1038.6 1438.2 L1040.4 1440.1 L1042.2 1441.8 L1044 1443.5 L1045.7 1445 L1047.8 1447 L1050 1448.8 L1052 1450.5 L1054.1 1452.4 L1056.1 1454 L1058.2 1455.6 L1060.1 1457 L1062.1 1458.2 L1064 1459.8 L1065.9 1461.1 L1067.8 1462.8 L1070 1464.5 L1072.1 1465.8 L1074.1 1467.2 L1076.1 1468.7 L1078 1470.2 L1080 1471.9 L1082.1 1473 L1084.3 1474.3 L1086.7 1475.1 L1089 1475.8 L1091.5 1476.9 L1094.1 1477.1 L1096.8 1478.2 L1099.5 1478 L1102.3 1478.3 L1104.9 1478.5 L1107.4 1478.9 L1109.8 1479.7 L1112 1479.4 L1115.1 1480 L1117.6 1480.9 L1119.9 1482.7 L1122.2 1483.7 L1124.7 1484.5 L1127.8 1485 L1130 1484.1 L1132.5 1484.6 L1135.1 1484.4 L1137.8 1484.2 L1140.6 1483.8 L1143.4 1483.3 L1146.1 1482.8 L1148.7 1482.3 L1151 1482.1 L1153.1 1482.3 L1156.6 1481.3 L1159.7 1482.2 L1162.2 1482.8 L1164.3 1482.5 L1165.8 1483.1" fill="none" stroke="#000" stroke-width="5" stroke-linejoin="round" stroke-linecap="round" />
<text x="154.5" y="1026" font-size="100" text-anchor="start" fill="#0c0c0c" stroke="#000" stroke-width="1.5" letter-spacing="3">(c)</text>
<text x="515" y="1102.9" font-size="51" text-anchor="middle" >V2p3/2</text>
<text x="960" y="1357.5" font-size="51" text-anchor="middle" >V2p1/2</text>
<line x1="669" y1="1137.8" x2="760.5" y2="1137.8" stroke="#000" stroke-width="5.5" stroke-linecap="round"/>
<line x1="670" y1="1197" x2="761.5" y2="1197" stroke="#ff0000" stroke-width="5.5" stroke-linecap="round"/>
<text x="764.3" y="1144.2" font-size="51" text-anchor="start" >V2p</text>
<text x="773" y="1211.8" font-size="51" text-anchor="start" >background</text>
<text transform="translate(91.8 1362) rotate(-90)" x="0" y="0" font-size="66" text-anchor="middle">Intensity(a.u.)</text>
<text x="670.3" y="1855.3" font-size="66.5" text-anchor="middle" >Binding energy(eV)</text>
<line x1="1324.4" y1="947.3" x2="1324.4" y2="1711.5" stroke="#000" stroke-width="3.1" stroke-linecap="butt"/>
<line x1="2358.3" y1="947.3" x2="2358.3" y2="1711.5" stroke="#000" stroke-width="3.1" stroke-linecap="butt"/>
<line x1="1322.9" y1="1710" x2="2359.9" y2="1710" stroke="#000" stroke-width="3.1" stroke-linecap="butt"/>
<line x1="1322.9" y1="947.3" x2="2359.9" y2="947.3" stroke="#000" stroke-width="3.1" stroke-linecap="butt"/>
<line x1="1324.4" y1="1710" x2="1324.4" y2="1717.5" stroke="#000" stroke-width="3.1" stroke-linecap="round"/>
<line x1="1453.6" y1="1710" x2="1453.6" y2="1724.5" stroke="#000" stroke-width="3.1" stroke-linecap="round"/>
<line x1="1582.9" y1="1710" x2="1582.9" y2="1717.5" stroke="#000" stroke-width="3.1" stroke-linecap="round"/>
<line x1="1712.1" y1="1710" x2="1712.1" y2="1724.5" stroke="#000" stroke-width="3.1" stroke-linecap="round"/>
<line x1="1841.4" y1="1710" x2="1841.4" y2="1717.5" stroke="#000" stroke-width="3.1" stroke-linecap="round"/>
<line x1="1970.6" y1="1710" x2="1970.6" y2="1724.5" stroke="#000" stroke-width="3.1" stroke-linecap="round"/>
<line x1="2099.8" y1="1710" x2="2099.8" y2="1717.5" stroke="#000" stroke-width="3.1" stroke-linecap="round"/>
<line x1="2229.1" y1="1710" x2="2229.1" y2="1724.5" stroke="#000" stroke-width="3.1" stroke-linecap="round"/>
<line x1="2358.3" y1="1710" x2="2358.3" y2="1717.5" stroke="#000" stroke-width="3.1" stroke-linecap="round"/>
<text x="1453.6" y="1786.2" font-size="65" text-anchor="middle" >528</text>
<text x="1712.1" y="1786.2" font-size="65" text-anchor="middle" >530</text>
<text x="1970.6" y="1786.2" font-size="65" text-anchor="middle" >532</text>
<text x="2229.1" y="1786.2" font-size="65" text-anchor="middle" >534</text>
<path d="M1325.1 1497.8 C1333.3 1498.7 1346.8 1502.1 1374.3 1502.9 C1401.8 1503.8 1453.6 1503 1489.8 1502.9 C1526 1502.8 1563.3 1502.9 1591.6 1502.2 C1619.9 1501.5 1636.9 1500.8 1659.6 1498.8 C1682.2 1496.8 1704.9 1493.4 1727.5 1490.4 C1750.1 1487.4 1772.8 1483.3 1795.4 1480.9 C1818 1478.5 1845.9 1476.7 1863.3 1475.8 C1880.7 1474.9 1875.9 1476.1 1900 1475.5 C1924.1 1474.9 1971.8 1473.2 2007.7 1472.3 C2043.6 1471.4 2079.5 1470.8 2115.4 1470.2 C2151.3 1469.6 2182.9 1468.9 2223.1 1468.6 C2263.3 1468.3 2334.3 1468.4 2356.6 1468.4" fill="none" stroke="#ff0000" stroke-width="6" stroke-linejoin="round" stroke-linecap="round" />
<path d="M1325.1 1498.8 L1326.5 1499.3 L1328.1 1499 L1329.9 1498.7 L1331.9 1499.2 L1334.1 1499.7 L1336.4 1500 L1338.9 1500.3 L1341.5 1500.3 L1344.2 1500.4 L1347 1500.4 L1349.9 1500.8 L1352.8 1501 L1355.8 1501.6 L1358.8 1501.9 L1361.9 1501.6 L1364.9 1502.1 L1367.9 1502.2 L1370.9 1502.6 L1373.2 1503 L1375.5 1502.9 L1377.8 1502.2 L1380.2 1502.7 L1382.7 1502.2 L1385.2 1503 L1387.7 1502.8 L1390.3 1502.8 L1392.8 1503.5 L1395.4 1502.8 L1398.1 1503 L1400.7 1502.8 L1403.3 1502.8 L1406 1502.8 L1408.7 1503.2 L1411.3 1503.2 L1414 1503.3 L1416.6 1503.5 L1419.2 1502.8 L1421.8 1503.4 L1424.4 1503.2 L1427 1502.6 L1429.5 1502.6 L1432 1503 L1434.6 1503.2 L1437.2 1502.7 L1439.8 1502.6 L1442.4 1502.6 L1445 1502.7 L1447.6 1502.3 L1450.2 1502.4 L1452.8 1501.7 L1455.3 1501.4 L1457.9 1501.5 L1460.5 1501.5 L1463 1501.1 L1465.6 1501 L1468.1 1500.7 L1470.6 1500.6 L1473.1 1500.5 L1475.5 1500.1 L1478 1499.9 L1480.4 1499.2 L1482.8 1498.7 L1485.2 1497.8 L1487.5 1497.9 L1489.8 1497.7 L1492.6 1497.5 L1495.4 1496.5 L1498.2 1496.2 L1500.9 1495.7 L1503.7 1494.9 L1506.5 1495 L1509.2 1494.9 L1511.9 1493.8 L1514.6 1493.5 L1517.2 1493.4 L1519.7 1492.2 L1522.2 1492 L1524.7 1491.7 L1527 1491.4 L1529.3 1490 L1531.4 1489.1 L1533.5 1488.7 L1535.5 1488.5 L1537.3 1487.5 L1540.8 1486.1 L1543.8 1484.7 L1546.4 1483.6 L1548.6 1482.1 L1550.6 1480.7 L1552.4 1479.4 L1554.1 1478.2 L1555.9 1477.1 L1557.7 1476 L1560.7 1475 L1563.3 1474.3 L1565.7 1473.2 L1568.3 1472.2 L1571.3 1470.8 L1573.1 1469.6 L1575 1468.2 L1577 1466.7 L1579.1 1465.4 L1581.2 1463.5 L1583.4 1461.6 L1585.5 1459.7 L1587.6 1457.7 L1589.7 1455.8 L1591.6 1453.8 L1593.3 1452 L1595 1449.9 L1596.7 1448.1 L1598.3 1446 L1599.9 1443.9 L1601.5 1441.7 L1603.1 1439.7 L1604.5 1437.6 L1606 1435.6 L1607.3 1433.5 L1608.6 1431.6 L1610 1429.3 L1611.3 1427.2 L1612.4 1425.1 L1613.4 1423 L1614.4 1420.9 L1615.4 1418.7 L1616.4 1416.4 L1617.6 1413.9 L1618.8 1411.2 L1619.7 1409.2 L1620.7 1407.2 L1621.7 1405.1 L1622.7 1402.9 L1623.8 1400.7 L1624.8 1398.4 L1625.9 1396.1 L1627 1393.7 L1628.1 1391.2 L1629.2 1388.7 L1630.3 1386.1 L1631.3 1383.4 L1632.4 1380.7 L1633.2 1378.6 L1634 1376.4 L1634.8 1374.2 L1635.6 1372 L1636.4 1369.7 L1637.2 1367.3 L1638 1365 L1638.8 1362.6 L1639.6 1360.1 L1640.4 1357.7 L1641.2 1355.2 L1642 1352.7 L1642.8 1350.2 L1643.6 1347.6 L1644.4 1345.1 L1645.2 1342.5 L1646 1339.9 L1646.7 1337.6 L1647.4 1335.2 L1648.1 1332.8 L1648.9 1330.5 L1649.6 1328.1 L1650.3 1325.6 L1651 1323.2 L1651.7 1320.7 L1652.4 1318.2 L1653.2 1315.7 L1653.9 1313.2 L1654.6 1310.7 L1655.3 1308.1 L1656 1305.6 L1656.7 1303 L1657.5 1300.3 L1658.2 1297.7 L1658.9 1295.1 L1659.6 1292.4 L1660.2 1290.1 L1660.8 1287.7 L1661.4 1285.4 L1662.1 1283 L1662.7 1280.7 L1663.3 1278.3 L1663.9 1275.9 L1664.5 1273.4 L1665.1 1271 L1665.7 1268.6 L1666.3 1266.1 L1667 1263.6 L1667.6 1261.1 L1668.2 1258.6 L1668.8 1256.1 L1669.4 1253.6 L1670 1251 L1670.6 1248.5 L1671.3 1245.9 L1671.9 1243.3 L1672.5 1240.7 L1673.1 1238.1 L1673.6 1235.8 L1674.2 1233.4 L1674.7 1231 L1675.3 1228.5 L1675.9 1226 L1676.4 1223.5 L1677 1221 L1677.6 1218.5 L1678.1 1215.9 L1678.7 1213.3 L1679.3 1210.8 L1679.8 1208.2 L1680.4 1205.6 L1680.9 1203.1 L1681.5 1200.5 L1682.1 1198 L1682.6 1195.5 L1683.1 1193.1 L1683.7 1190.6 L1684.2 1188.2 L1684.7 1185.9 L1685.2 1183.6 L1685.7 1181.3 L1686.2 1179.1 L1686.7 1177 L1687.3 1174.1 L1688 1171.4 L1688.6 1168.7 L1689.1 1166.1 L1689.7 1163.6 L1690.2 1161.1 L1690.8 1158.7 L1691.3 1156.4 L1691.8 1154 L1692.3 1151.7 L1692.8 1149.4 L1693.4 1147.2 L1693.9 1144.8 L1694.5 1142.5 L1695 1140.2 L1695.6 1137.8 L1696.3 1135.3 L1696.9 1132.8 L1697.5 1130.4 L1698.2 1127.9 L1698.9 1125.3 L1699.6 1122.8 L1700.3 1120.2 L1701 1117.6 L1701.7 1115 L1702.5 1112.3 L1703.2 1109.7 L1704 1107.1 L1704.7 1104.5 L1705.5 1102 L1706.2 1099.4 L1707 1096.9 L1707.7 1094.5 L1708.4 1092.1 L1709.1 1089.7 L1709.8 1087.5 L1710.5 1085.3 L1711.4 1082.4 L1712.3 1079.7 L1713.2 1077 L1714 1074.4 L1714.9 1071.8 L1715.7 1069.3 L1716.6 1066.9 L1717.4 1064.6 L1718.2 1062.3 L1719 1060 L1719.9 1057.8 L1720.7 1055.6 L1721.6 1053.4 L1722.4 1051.3 L1723.5 1048.6 L1724.5 1046 L1725.6 1043.5 L1726.7 1041 L1727.7 1038.6 L1728.8 1036.2 L1729.9 1033.9 L1730.9 1031.8 L1732 1029.7 L1733.2 1027.7 L1734.3 1025.8 L1735.9 1023.3 L1737.6 1020.8 L1739.2 1018.5 L1740.9 1016.2 L1742.7 1014.3 L1744.4 1012.5 L1746.1 1011.2 L1747.8 1010.6 L1750.5 1010 L1753.2 1010.8 L1756 1011.9 L1758.7 1013.6 L1761.4 1015.5 L1763.4 1017.1 L1765.4 1018.6 L1767.4 1020.3 L1769.4 1022.1 L1771.4 1024.2 L1773.2 1026.5 L1775 1029.2 L1776.1 1031.2 L1777.2 1033.4 L1778.2 1035.7 L1779.2 1038.1 L1780.1 1040.7 L1781 1043.3 L1782 1046 L1783 1048.9 L1784.1 1051.7 L1785.2 1054.7 L1786.1 1056.8 L1787 1059.1 L1787.9 1061.3 L1788.8 1063.6 L1789.8 1065.9 L1790.8 1068.3 L1791.8 1070.8 L1792.8 1073.2 L1793.8 1075.7 L1794.8 1078.3 L1795.8 1080.8 L1796.8 1083.4 L1797.8 1086 L1798.8 1088.7 L1799.6 1090.9 L1800.4 1093.2 L1801.2 1095.5 L1802 1097.8 L1802.8 1100.2 L1803.6 1102.6 L1804.4 1105 L1805.2 1107.4 L1806 1109.9 L1806.8 1112.3 L1807.6 1114.8 L1808.4 1117.2 L1809.2 1119.7 L1810 1122.1 L1810.8 1124.6 L1811.6 1127 L1812.4 1129.4 L1813.2 1131.8 L1814 1134.2 L1814.8 1136.6 L1815.6 1139 L1816.4 1141.4 L1817.2 1143.8 L1818 1146.2 L1818.8 1148.6 L1819.5 1151 L1820.3 1153.4 L1821.1 1155.8 L1821.9 1158.2 L1822.7 1160.6 L1823.5 1163 L1824.3 1165.4 L1825.1 1167.8 L1825.9 1170.2 L1826.7 1172.6 L1827.4 1174.9 L1828.2 1177.1 L1828.9 1179.3 L1829.6 1181.5 L1830.3 1183.6 L1831 1185.8 L1831.7 1188 L1832.4 1190.2 L1833.2 1192.4 L1833.9 1194.8 L1834.7 1197.2 L1835.6 1199.7 L1836.5 1202.3 L1837.4 1205 L1838.4 1207.9 L1839.5 1210.9 L1840.2 1212.9 L1840.9 1215 L1841.7 1217.2 L1842.5 1219.4 L1843.3 1221.7 L1844.2 1224.1 L1845 1226.5 L1845.9 1229 L1846.8 1231.5 L1847.7 1234.1 L1848.6 1236.6 L1849.6 1239.2 L1850.5 1241.8 L1851.4 1244.5 L1852.4 1247.1 L1853.3 1249.6 L1854.3 1252.2 L1855.2 1254.8 L1856.2 1257.3 L1857.1 1259.8 L1858 1262.2 L1859 1264.6 L1859.9 1266.9 L1860.7 1269.1 L1861.6 1271.3 L1862.5 1273.4 L1863.3 1275.4 L1864.5 1278.3 L1865.7 1281.1 L1866.9 1283.8 L1868.1 1286.4 L1869.3 1289 L1870.5 1291.5 L1871.6 1293.9 L1872.8 1296.2 L1873.9 1298.5 L1875.1 1300.7 L1876.2 1302.8 L1877.3 1304.9 L1878.4 1306.9 L1879.5 1308.8 L1880.5 1310.7 L1881.6 1312.6 L1882.7 1314.4 L1883.7 1316.2 L1885.4 1318.9 L1887 1321.5 L1888.6 1323.8 L1890.2 1326 L1891.8 1328 L1893.3 1329.9 L1894.8 1331.7 L1896.3 1333.5 L1897.7 1335.2 L1899.2 1336.6 L1900.6 1338.1 L1902.8 1340.4 L1905 1342.1 L1907.1 1343.6 L1909.1 1344.7 L1911.1 1346.2 L1913.1 1347.7 L1915.1 1349.5 L1916.8 1351.3 L1918.4 1353.2 L1920 1355.3 L1921.5 1357.4 L1923.1 1359.7 L1924.7 1361.8 L1926.3 1363.7 L1928 1365.6 L1930.1 1367.8 L1932.3 1369.8 L1934.5 1371.8 L1936.8 1373.8 L1939 1375.4 L1941.2 1376.9 L1943.1 1378.6 L1946 1380.5 L1948.4 1381.6 L1950.9 1382.5 L1953.8 1383.5 L1955.7 1384.1 L1957.6 1385.2 L1959.6 1386.7 L1961.7 1388 L1964 1389.5 L1966.4 1391 L1968.9 1392.7 L1971 1393.7 L1973.3 1395.2 L1975.8 1396.8 L1978.3 1397.9 L1980.8 1399.7 L1983.4 1401.2 L1985.9 1402.3 L1988.3 1403.9 L1990.5 1404.8 L1993.5 1405.8 L1996.2 1406.6 L1998.8 1405.8 L2001.5 1406.3 L2004.4 1407.1 L2007.7 1408.2 L2009.7 1408.6 L2011.9 1409.2 L2014.2 1410 L2016.5 1411 L2019 1411.9 L2021.4 1412.6 L2023.9 1413.8 L2026.4 1414.7 L2028.8 1415.7 L2031.2 1416.5 L2033.5 1417.1 L2036.3 1417.7 L2039.1 1418.1 L2041.9 1418.1 L2044.6 1418 L2047.4 1418 L2050 1418 L2052.6 1418 L2055 1418.6 L2057.2 1418.7 L2060.1 1419.2 L2062.6 1419.7 L2064.8 1420.7 L2066.9 1421.4 L2069.4 1422.9 L2072.3 1423.9 L2074.5 1423.9 L2076.9 1423.8 L2079.4 1424 L2082 1423.9 L2084.7 1423.2 L2087.5 1423.1 L2090.3 1423.2 L2093.1 1423 L2096 1424 L2098.4 1424.5 L2101 1424.8 L2103.7 1425.5 L2106.5 1426.2 L2109.3 1427 L2112.1 1427.8 L2114.7 1429 L2117.3 1429.7 L2119.8 1430.3 L2122 1430.7 L2124 1431.4 L2127.5 1431.5 L2130.2 1431 L2132.5 1431 L2134.6 1431.4 L2136.9 1431.4 L2139.1 1432.3 L2140.9 1433.5 L2142.9 1435.2 L2145.7 1436.7 L2149.8 1437.6 L2151.7 1438.6 L2153.9 1438.8 L2156.3 1438.8 L2158.9 1439.1 L2161.6 1439.6 L2164.4 1440.3 L2167.3 1440.5 L2170.3 1440.6 L2173.2 1441.4 L2176.1 1442.1 L2178.9 1442.1 L2181.6 1442.5 L2184.2 1442.9 L2186.5 1443.2 L2189.6 1443.7 L2192.5 1444.9 L2195.4 1445.4 L2198.1 1446 L2200.8 1447.3 L2203.3 1448.6 L2205.7 1449.5 L2208 1449.8 L2210.2 1450.3 L2212.3 1450.4 L2215.3 1450.5 L2217.7 1449.6 L2219.9 1449 L2222 1448.9 L2224.4 1448.1 L2227.4 1448.9 L2229.3 1449.3 L2231.4 1449.4 L2233.7 1450.7 L2236 1451.4 L2238.4 1452.7 L2240.9 1453.8 L2243.4 1454.8 L2245.9 1455.9 L2248.4 1456.5 L2250.8 1457.3 L2253.2 1458 L2255.8 1459.1 L2258.3 1459 L2260.8 1459.3 L2263.4 1459.4 L2265.9 1459.6 L2268.4 1459.3 L2271 1459.2 L2273.6 1458.9 L2276.3 1459.8 L2279.1 1459.3 L2281.5 1459.7 L2284 1459.9 L2286.5 1460.4 L2289.1 1460.6 L2291.8 1461 L2294.4 1461.9 L2297 1462.5 L2299.6 1462.7 L2302.2 1463.1 L2304.6 1463.5 L2307 1463.8 L2309.2 1464.2 L2312.4 1464.8 L2315.4 1465.2 L2318.3 1464.9 L2321.1 1465.4 L2323.7 1465.4 L2326.2 1466 L2328.6 1466.1 L2330.8 1466.3 L2333.9 1466.3 L2336.6 1466.3 L2339 1466.2 L2341.3 1465.8 L2343.7 1465.1 L2346.5 1465.5 L2349.5 1466.7 L2352.4 1466.8 L2354.8 1467.3 L2356.6 1468.3" fill="none" stroke="#000" stroke-width="5" stroke-linejoin="round" stroke-linecap="round" />
<text x="1340.5" y="1025" font-size="100" text-anchor="start" fill="#0c0c0c" stroke="#000" stroke-width="1.5" letter-spacing="3">(d)</text>
<line x1="1353" y1="1186.2" x2="1469.5" y2="1186.2" stroke="#000" stroke-width="5.5" stroke-linecap="round"/>
<line x1="1353" y1="1252.2" x2="1469.5" y2="1252.2" stroke="#ff0000" stroke-width="5.5" stroke-linecap="round"/>
<text x="1482.8" y="1203.2" font-size="51.5" text-anchor="start" >O 1s</text>
<text x="1483.8" y="1269.2" font-size="51.8" text-anchor="start" >background</text>
<text transform="translate(1266.1 1350.3) rotate(-90)" x="0" y="0" font-size="67.2" text-anchor="middle">Intensity (a.u.)</text>
<text x="1821.5" y="1859" font-size="66.5" text-anchor="middle" >Binding energy(eV)</text>
<rect x="1941.3" y="970.2" width="402" height="299" fill="none" stroke="#222" stroke-width="2"/>
<line x1="1941.3" y1="1269.2" x2="1941.3" y2="1272.7" stroke="#000" stroke-width="1.6" stroke-linecap="butt"/>
<line x1="1964.3" y1="1269.2" x2="1964.3" y2="1276.2" stroke="#000" stroke-width="1.6" stroke-linecap="butt"/>
<line x1="1987.2" y1="1269.2" x2="1987.2" y2="1272.7" stroke="#000" stroke-width="1.6" stroke-linecap="butt"/>
<line x1="2010.2" y1="1269.2" x2="2010.2" y2="1276.2" stroke="#000" stroke-width="1.6" stroke-linecap="butt"/>
<line x1="2033.1" y1="1269.2" x2="2033.1" y2="1272.7" stroke="#000" stroke-width="1.6" stroke-linecap="butt"/>
<line x1="2056.1" y1="1269.2" x2="2056.1" y2="1276.2" stroke="#000" stroke-width="1.6" stroke-linecap="butt"/>
<line x1="2079.1" y1="1269.2" x2="2079.1" y2="1272.7" stroke="#000" stroke-width="1.6" stroke-linecap="butt"/>
<line x1="2102" y1="1269.2" x2="2102" y2="1276.2" stroke="#000" stroke-width="1.6" stroke-linecap="butt"/>
<line x1="2125" y1="1269.2" x2="2125" y2="1272.7" stroke="#000" stroke-width="1.6" stroke-linecap="butt"/>
<line x1="2147.9" y1="1269.2" x2="2147.9" y2="1276.2" stroke="#000" stroke-width="1.6" stroke-linecap="butt"/>
<line x1="2170.9" y1="1269.2" x2="2170.9" y2="1272.7" stroke="#000" stroke-width="1.6" stroke-linecap="butt"/>
<line x1="2193.9" y1="1269.2" x2="2193.9" y2="1276.2" stroke="#000" stroke-width="1.6" stroke-linecap="butt"/>
<line x1="2216.8" y1="1269.2" x2="2216.8" y2="1272.7" stroke="#000" stroke-width="1.6" stroke-linecap="butt"/>
<line x1="2239.8" y1="1269.2" x2="2239.8" y2="1276.2" stroke="#000" stroke-width="1.6" stroke-linecap="butt"/>
<line x1="2262.7" y1="1269.2" x2="2262.7" y2="1272.7" stroke="#000" stroke-width="1.6" stroke-linecap="butt"/>
<line x1="2285.7" y1="1269.2" x2="2285.7" y2="1276.2" stroke="#000" stroke-width="1.6" stroke-linecap="butt"/>
<line x1="2308.7" y1="1269.2" x2="2308.7" y2="1272.7" stroke="#000" stroke-width="1.6" stroke-linecap="butt"/>
<line x1="2331.6" y1="1269.2" x2="2331.6" y2="1276.2" stroke="#000" stroke-width="1.6" stroke-linecap="butt"/>
<text x="1964.3" y="1300.6" font-size="26.5" text-anchor="middle" >526</text>
<text x="2010.2" y="1300.6" font-size="26.5" text-anchor="middle" >528</text>
<text x="2056.1" y="1300.6" font-size="26.5" text-anchor="middle" >530</text>
<text x="2102" y="1300.6" font-size="26.5" text-anchor="middle" >532</text>
<text x="2147.9" y="1300.6" font-size="26.5" text-anchor="middle" >534</text>
<text x="2193.9" y="1300.6" font-size="26.5" text-anchor="middle" >536</text>
<text x="2239.8" y="1300.6" font-size="26.5" text-anchor="middle" >538</text>
<text x="2285.7" y="1300.6" font-size="26.5" text-anchor="middle" >540</text>
<text x="2331.6" y="1300.6" font-size="26.5" text-anchor="middle" >542</text>
<text x="2142.5" y="1321" font-size="26" text-anchor="middle" >Binding energy(eV)</text>
<text transform="translate(1923.5 1120.7) rotate(-90)" x="0" y="0" font-size="26.5" text-anchor="middle">Intensity(a.u.)</text>
<text x="2114.5" y="1074.5" font-size="20.5" text-anchor="start" >O 1s</text>
<path d="M1941.5 1222.8 L1942.3 1223.5 L1943.4 1223.7 L1944.7 1224.7 L1946.2 1225.4 L1947.7 1226.3 L1949.2 1227.8 L1950.1 1228.6 L1951 1229.6 L1952 1230.7 L1952.9 1232 L1953.9 1233.2 L1954.9 1234.5 L1955.9 1235.7 L1956.9 1236.9 L1957.9 1238 L1958.9 1238.9 L1960.1 1240 L1961.3 1241 L1962.5 1242 L1963.7 1243 L1964.9 1244 L1966.1 1244.9 L1967.3 1245.7 L1968.5 1246.7 L1969.7 1247.8 L1970.9 1248.9 L1972 1249.8 L1973.2 1250.8 L1974.4 1251.6 L1975.6 1252.6 L1976.8 1253.2 L1978.1 1253.9 L1979.5 1255.1 L1980.9 1255.2 L1982.3 1256.2 L1983.8 1256.9 L1985.3 1257.2 L1986.8 1257.8 L1988.2 1258.2 L1989.7 1258.8 L1991.3 1259 L1992.9 1259.1 L1994.5 1259.3 L1996.1 1259.4 L1997.8 1259.8 L1999.5 1259.8 L2001.2 1260.5 L2002.6 1259.7 L2004.1 1259.6 L2005.6 1259.5 L2007.2 1258.9 L2008.7 1259.9 L2010.3 1258.8 L2011.8 1258.8 L2013.3 1258.5 L2014.7 1258.7 L2016.3 1257.4 L2017.8 1257.2 L2019.4 1256.3 L2020.9 1255.5 L2022.4 1254.5 L2023.8 1253.7 L2025 1252.5 L2026.2 1251.5 L2027.2 1250.5 L2028.1 1249.3 L2028.9 1247.9 L2029.6 1246.6 L2030.2 1245.2 L2030.8 1243.8 L2031.4 1242.4 L2032 1241 L2032.6 1239.5 L2033.2 1238.1 L2033.8 1236.6 L2034.3 1235.1 L2034.8 1233.6 L2035.2 1231.9 L2035.7 1230 L2036 1228.8 L2036.3 1227.5 L2036.5 1226.3 L2036.8 1225 L2037 1223.7 L2037.3 1222.2 L2037.5 1220.8 L2037.8 1219.2 L2038.1 1217.4 L2038.4 1215.5 L2038.7 1213.5 L2038.9 1212.3 L2039.1 1211 L2039.3 1209.7 L2039.5 1208.3 L2039.8 1206.9 L2040 1205.4 L2040.2 1203.9 L2040.5 1202.3 L2040.7 1200.8 L2040.9 1199.2 L2041.2 1197.6 L2041.4 1195.9 L2041.7 1194.3 L2041.9 1192.7 L2042.2 1191 L2042.4 1189.4 L2042.6 1187.8 L2042.9 1186.2 L2043.1 1184.6 L2043.3 1183.1 L2043.5 1181.6 L2043.7 1180.1 L2043.9 1178.5 L2044.1 1177 L2044.3 1175.5 L2044.5 1174 L2044.7 1172.4 L2044.9 1170.9 L2045.1 1169.4 L2045.3 1167.8 L2045.5 1166.3 L2045.7 1164.8 L2045.9 1163.3 L2046 1161.7 L2046.2 1160.2 L2046.4 1158.7 L2046.6 1157.2 L2046.8 1155.6 L2046.9 1154.1 L2047.1 1152.6 L2047.3 1151.1 L2047.4 1149.6 L2047.6 1148.2 L2047.7 1146.8 L2047.9 1145.4 L2048.1 1144 L2048.2 1142.6 L2048.4 1141.2 L2048.5 1139.8 L2048.6 1138.4 L2048.8 1136.9 L2048.9 1135.5 L2049.1 1134 L2049.2 1132.4 L2049.4 1130.9 L2049.5 1129.3 L2049.7 1127.6 L2049.8 1125.9 L2049.9 1124.1 L2050.1 1122.2 L2050.2 1120.9 L2050.3 1119.6 L2050.4 1118.2 L2050.5 1116.9 L2050.6 1115.5 L2050.7 1114 L2050.8 1112.6 L2050.9 1111.1 L2051 1109.6 L2051.1 1108.1 L2051.2 1106.6 L2051.3 1105 L2051.4 1103.5 L2051.5 1101.9 L2051.6 1100.3 L2051.7 1098.7 L2051.8 1097.1 L2051.9 1095.5 L2052 1093.9 L2052.1 1092.3 L2052.2 1090.7 L2052.3 1089.1 L2052.4 1087.5 L2052.5 1085.9 L2052.6 1084.3 L2052.8 1082.7 L2052.9 1081.1 L2053 1079.6 L2053.1 1078 L2053.2 1076.5 L2053.3 1075 L2053.4 1073.4 L2053.6 1071.9 L2053.7 1070.3 L2053.8 1068.8 L2053.9 1067.2 L2054 1065.6 L2054.2 1064 L2054.3 1062.4 L2054.4 1060.9 L2054.5 1059.3 L2054.7 1057.7 L2054.8 1056.1 L2054.9 1054.5 L2055 1053 L2055.2 1051.4 L2055.3 1049.8 L2055.4 1048.3 L2055.6 1046.8 L2055.7 1045.2 L2055.8 1043.7 L2056 1042.2 L2056.1 1040.7 L2056.2 1039.3 L2056.3 1037.8 L2056.5 1036.4 L2056.6 1035 L2056.7 1033.6 L2056.9 1032.2 L2057 1030.9 L2057.2 1029.1 L2057.4 1027.3 L2057.5 1025.5 L2057.7 1023.7 L2057.9 1022 L2058.1 1020.2 L2058.3 1018.5 L2058.5 1016.8 L2058.7 1015.1 L2058.9 1013.5 L2059.1 1011.9 L2059.3 1010.3 L2059.4 1008.8 L2059.6 1007.3 L2059.8 1005.8 L2060 1004.4 L2060.2 1003 L2060.3 1001.7 L2060.5 1000.4 L2060.7 999.2 L2060.8 998.1 L2061 997 L2061.4 994.3 L2061.8 991.9 L2062.1 989.8 L2062.5 988.1 L2062.8 986.7 L2063.1 985.6 L2063.5 984.9 L2063.8 984.4 L2064.3 984.8 L2064.9 986.1 L2065.4 988.1 L2066 990.5 L2066.5 993 L2066.8 994.1 L2067 995.2 L2067.2 996.3 L2067.5 997.4 L2067.7 998.7 L2067.9 1000 L2068.2 1001.6 L2068.5 1003.4 L2068.8 1005.5 L2069.1 1008 L2069.2 1009.1 L2069.4 1010.2 L2069.6 1011.5 L2069.7 1012.7 L2069.9 1014 L2070.1 1015.4 L2070.2 1016.8 L2070.4 1018.2 L2070.6 1019.7 L2070.8 1021.2 L2071 1022.8 L2071.2 1024.3 L2071.4 1025.9 L2071.6 1027.6 L2071.8 1029.2 L2072 1030.9 L2072.2 1032.5 L2072.4 1034.2 L2072.6 1035.9 L2072.7 1037.6 L2072.9 1039.3 L2073.1 1041 L2073.3 1042.7 L2073.5 1044.4 L2073.7 1046.1 L2073.9 1047.5 L2074 1048.9 L2074.2 1050.4 L2074.3 1051.9 L2074.5 1053.4 L2074.6 1054.9 L2074.8 1056.4 L2074.9 1057.9 L2075.1 1059.5 L2075.3 1061.1 L2075.4 1062.6 L2075.6 1064.2 L2075.7 1065.8 L2075.9 1067.4 L2076 1069 L2076.2 1070.5 L2076.4 1072.1 L2076.5 1073.7 L2076.7 1075.3 L2076.8 1076.9 L2077 1078.4 L2077.1 1080 L2077.3 1081.5 L2077.4 1083 L2077.6 1084.5 L2077.7 1086 L2077.9 1087.5 L2078 1089 L2078.2 1090.4 L2078.3 1091.8 L2078.5 1093.5 L2078.6 1095.1 L2078.8 1096.8 L2079 1098.5 L2079.1 1100.1 L2079.3 1101.8 L2079.4 1103.4 L2079.6 1105.1 L2079.7 1106.7 L2079.9 1108.3 L2080 1109.9 L2080.2 1111.5 L2080.3 1113 L2080.5 1114.5 L2080.6 1116.1 L2080.8 1117.6 L2080.9 1119 L2081.1 1120.5 L2081.2 1121.9 L2081.4 1123.3 L2081.5 1124.7 L2081.6 1126 L2081.8 1127.3 L2081.9 1128.6 L2082.1 1129.8 L2082.4 1131.8 L2082.6 1133.7 L2082.8 1135.5 L2083.1 1137.2 L2083.3 1138.8 L2083.6 1140.4 L2083.8 1141.9 L2084.1 1143.3 L2084.3 1144.7 L2084.6 1146.1 L2084.8 1147.4 L2085.1 1148.8 L2085.4 1150 L2085.6 1151.3 L2085.9 1152.6 L2086.3 1154.4 L2086.7 1156 L2087.2 1157.6 L2087.6 1159 L2088 1160.4 L2088.5 1161.7 L2088.9 1163.1 L2089.4 1164.6 L2089.9 1166.2 L2090.4 1168 L2090.8 1169.3 L2091.1 1170.7 L2091.5 1172.1 L2091.9 1173.7 L2092.3 1175.2 L2092.7 1176.8 L2093.1 1178.4 L2093.5 1180.1 L2093.9 1181.6 L2094.3 1183.2 L2094.7 1184.7 L2095.1 1186.1 L2095.5 1187.5 L2095.9 1188.8 L2096.3 1189.9 L2097 1191.8 L2097.8 1193.4 L2098.6 1194.9 L2099.3 1196.2 L2100.1 1197.3 L2100.8 1198.4 L2101.5 1199.5 L2102.2 1200.5 L2103.4 1202.2 L2104.5 1203.7 L2105.6 1204.8 L2106.8 1206.3 L2107.9 1207.5 L2109 1208.7 L2110.1 1209.8 L2111.4 1211 L2112.7 1212.1 L2114.2 1212.8 L2115.9 1213.6 L2117.7 1213.7 L2119.4 1214.5 L2120.9 1215.3 L2122.9 1215.9 L2124.7 1216.6 L2126.7 1216.7 L2128 1217.1 L2129.3 1218.3 L2130.8 1219.4 L2132.2 1220.6 L2133.7 1221.8 L2135 1222.8 L2136.5 1224 L2137.9 1225.1 L2139.3 1225.5 L2140.6 1226.4 L2142 1227.7 L2143.3 1228.4 L2144.6 1229.4 L2145.9 1230.3 L2147.4 1231 L2149 1232.3 L2150.4 1233.1 L2151.9 1233.5 L2153.5 1234.4 L2155.1 1234.6 L2156.7 1235.2 L2158.2 1236.2 L2159.5 1236.7 L2160.8 1237.4 L2161.6 1238.4 L2162.3 1239.2 L2163.7 1240.3 L2166 1241 L2167.1 1240.9 L2168.3 1240.8 L2169.6 1240.9 L2171 1241.1 L2172.5 1241.8 L2174.1 1242.2 L2175.7 1242.5 L2177.4 1242.3 L2179.2 1242 L2180.9 1242.3 L2182.7 1242.1 L2184.5 1242.1 L2186.3 1241.5 L2188.1 1241.6 L2189.9 1242.3 L2191.3 1241.7 L2192.8 1241.3 L2194.3 1241.4 L2195.8 1242.1 L2197.4 1242.2 L2199 1241.6 L2200.6 1241.2 L2202.2 1241 L2203.8 1240.6 L2205.4 1240.6 L2207 1240.4 L2208.6 1239.8 L2210.1 1239.7 L2211.7 1239.6 L2213.2 1239.3 L2214.6 1239 L2216 1239.4 L2217.4 1239.9 L2218.7 1239.3 L2220.5 1238.9 L2222.1 1238.8 L2223.6 1238.5 L2225 1238 L2226.4 1238.4 L2227.7 1237.7 L2229 1237.3 L2230.3 1237.1 L2231.7 1236.7 L2233.1 1236.7 L2234.6 1236.8 L2236.2 1237 L2238 1236.7 L2239.3 1236.2 L2240.7 1235.5 L2242.1 1235.4 L2243.6 1234.9 L2245.2 1234.8 L2246.7 1235 L2248.4 1234.7 L2250 1234.2 L2251.6 1233.7 L2253.3 1233.5 L2254.9 1233.4 L2256.6 1232.8 L2258.2 1232.5 L2259.7 1232.7 L2261.3 1231.8 L2262.8 1231.7 L2264.2 1231.3 L2265.6 1231.8 L2266.9 1231.7 L2268.8 1231.4 L2270.7 1231.1 L2272.4 1230.8 L2274 1230.5 L2275.6 1229.6 L2277.1 1229.6 L2278.6 1229.7 L2280.1 1228.9 L2281.5 1229.2 L2283 1229.2 L2284.5 1228.3 L2286.1 1228.1 L2287.6 1228 L2289.1 1227.8 L2290.5 1227.9 L2291.9 1227.2 L2293.3 1227.2 L2294.7 1227.2 L2296.1 1227.3 L2297.7 1227.1 L2299.4 1226.8 L2301.2 1227 L2303.2 1226.1 L2305.4 1226.6 L2306.6 1226.5 L2308 1226.1 L2309.4 1226.2 L2310.9 1225.8 L2312.5 1225.5 L2314.2 1226 L2315.9 1226.1 L2317.7 1226.7 L2319.5 1226.5 L2321.3 1226.2 L2323.1 1226.3 L2324.9 1227.3 L2326.7 1227.2 L2328.5 1227 L2330.2 1226.8 L2331.9 1226.6 L2333.5 1226.9 L2335 1227.3 L2336.5 1227.8 L2337.8 1228.1 L2339.1 1227.9 L2340.2 1227.5 L2341.2 1227.3 L2342 1226.6" fill="none" stroke="#000" stroke-width="2.3" stroke-linejoin="round" stroke-linecap="round" />
<path d="M1941.5 1223.3 L2342 1228" fill="none" stroke="#0000ff" stroke-width="2.3" stroke-linejoin="round" stroke-linecap="round" />
<path d="M1941.5 1222.2 C1949.6 1221.9 1978.1 1221.3 1990 1220.4 C2001.9 1219.5 2006 1218.8 2012.8 1216.6 C2019.6 1214.4 2026.8 1211.7 2031.1 1207.4 C2035.4 1203.1 2036.5 1197.3 2038.7 1190.7 C2040.9 1184.1 2042.5 1175.5 2044 1167.9 C2045.5 1160.3 2046.5 1150.3 2047.8 1145 C2049.1 1139.7 2050.3 1135.1 2051.6 1135.9 C2052.9 1136.7 2054 1143.5 2055.4 1149.6 C2056.8 1155.7 2058.4 1165.7 2060 1172.4 C2061.6 1179.1 2062.8 1184.3 2064.7 1190 C2066.6 1195.7 2069 1202 2071.7 1206.3 C2074.4 1210.6 2077.2 1213.2 2081.1 1215.6 C2085 1218 2088.9 1219.5 2095.1 1220.9 C2101.3 1222.3 2107.8 1223 2118.5 1223.8 C2129.2 1224.6 2122.2 1224.8 2159.5 1225.6 C2196.8 1226.4 2311.6 1228 2342 1228.5" fill="none" stroke="#ff00ff" stroke-width="2.3" stroke-linejoin="round" stroke-linecap="round" />
<path d="M1941.5 1220.8 C1949.6 1220.2 1978.1 1219 1990 1217.3 C2001.9 1215.6 2007 1213.2 2012.8 1210.5 C2018.6 1207.8 2021.7 1205.5 2025 1201.4 C2028.3 1197.3 2030.6 1191.7 2032.6 1186.1 C2034.6 1180.5 2035.8 1175.2 2037.2 1167.9 C2038.6 1160.6 2039.9 1150.6 2041 1142 C2042.1 1133.4 2043 1125 2044 1116.1 C2045 1107.2 2046.1 1097.8 2047.1 1088.7 C2048.1 1079.6 2049 1070.4 2050.1 1061.3 C2051.2 1052.2 2052.5 1042.8 2053.9 1033.9 C2055.3 1025 2057.2 1015.3 2058.5 1008 C2059.8 1000.7 2060.9 994.4 2061.8 990 C2062.7 985.6 2063.3 982.2 2064.1 981.9 C2064.8 981.6 2065.5 984.9 2066.3 988 C2067.1 991.1 2068 992 2069.1 1000.4 C2070.2 1008.8 2071.7 1025.8 2073 1038.5 C2074.3 1051.2 2075.5 1063.8 2076.8 1076.5 C2078.1 1089.2 2079.5 1103.2 2080.6 1114.6 C2081.7 1126 2082.5 1135.4 2083.6 1145 C2084.7 1154.6 2086.2 1165.3 2087.4 1172.4 C2088.6 1179.5 2089.2 1182.6 2090.5 1187.5 C2091.8 1192.4 2092.4 1197.5 2095.1 1201.6 C2097.8 1205.7 2101.9 1209.4 2106.8 1212.1 C2111.7 1214.8 2118.5 1216.5 2124.4 1218 C2130.3 1219.5 2136.2 1220.1 2142 1220.9 C2147.8 1221.7 2143.5 1221.8 2159.5 1222.7 C2175.5 1223.6 2207.6 1225.4 2238 1226.2 C2268.4 1227 2324.7 1227.5 2342 1227.8" fill="none" stroke="#ff0000" stroke-width="2.3" stroke-linejoin="round" stroke-linecap="round" />
<path d="M1941.5 1221.8 C1949.6 1221.4 1978.1 1220.7 1990 1219.6 C2001.9 1218.5 2006 1217 2012.8 1215 C2019.6 1213 2026.3 1211.2 2031.1 1207.4 C2035.9 1203.6 2039 1198.8 2041.8 1192.2 C2044.6 1185.6 2046 1177 2047.8 1167.9 C2049.6 1158.8 2051.1 1147.6 2052.4 1137.4 C2053.7 1127.2 2054.4 1118.4 2055.4 1107 C2056.4 1095.6 2057.5 1080.3 2058.5 1068.9 C2059.5 1057.5 2060.4 1046.9 2061.5 1038.5 C2062.6 1030.1 2063.7 1018.7 2065 1018.7 C2066.3 1018.7 2067.8 1028.9 2069.1 1038.5 C2070.4 1048.1 2071.7 1062.5 2073 1076.5 C2074.3 1090.5 2075.7 1110.8 2076.8 1122.2 C2077.9 1133.6 2078.6 1138.2 2079.5 1145 C2080.4 1151.8 2081 1156.1 2082.2 1163 C2083.4 1169.9 2084.9 1179.8 2086.9 1186.4 C2088.9 1193 2090.7 1198.3 2094 1202.8 C2097.3 1207.3 2100.8 1210.5 2106.8 1213.3 C2112.9 1216.1 2121.5 1218 2130.3 1219.7 C2139.1 1221.4 2144.8 1222.3 2159.5 1223.3 C2174.2 1224.3 2188.3 1224.7 2218.7 1225.6 C2249.1 1226.5 2321.4 1228 2342 1228.5" fill="none" stroke="#008000" stroke-width="2.3" stroke-linejoin="round" stroke-linecap="round" />
</g></svg>
</body></html>
